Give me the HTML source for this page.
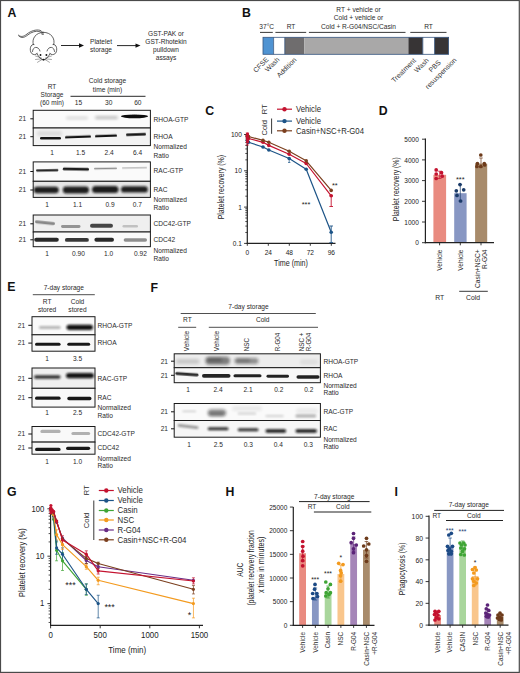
<!DOCTYPE html>
<html><head><meta charset="utf-8"><title>Figure</title>
<style>
html,body{margin:0;padding:0;background:#fff;}
body{width:520px;height:673px;overflow:hidden;font-family:"Liberation Sans",sans-serif;}
svg{display:block;}
svg text{font-family:"Liberation Sans",sans-serif;}
</style></head><body>
<svg width="520" height="673" viewBox="0 0 520 673">
<defs>
<filter id="b1" x="-30%" y="-100%" width="160%" height="300%"><feGaussianBlur stdDeviation="0.9"/></filter>
<filter id="b2" x="-30%" y="-100%" width="160%" height="300%"><feGaussianBlur stdDeviation="1.5"/></filter>
<filter id="b3" x="-30%" y="-100%" width="160%" height="300%"><feGaussianBlur stdDeviation="0.75"/></filter>
<filter id="b4" x="-30%" y="-100%" width="160%" height="300%"><feGaussianBlur stdDeviation="0.5"/></filter>
</defs>
<rect x="0" y="0" width="520" height="673" fill="#fff"/>
<rect x="0.5" y="0.5" width="518.8" height="671.9" fill="none" stroke="#4a4a4a" stroke-width="1.2"/>
<text x="7.5" y="17" font-size="12.3" text-anchor="start" font-weight="bold" fill="#111" >A</text>
<g fill="none" stroke="#3a3a3a" stroke-width="0.8" stroke-linecap="round" stroke-linejoin="round">
<path d="M18.5 35.2 C21 37.5 24 36.5 27 34 C31 30.8 36 29.3 40 30.3 C42 31 43 32.5 43.3 34.5"/>
<path d="M18.8 36 C21.5 38.6 24.8 37.5 28 34.8 C31.5 32 36 30.6 39.5 31.5 C41 32 42 33 42.3 34.6"/>
<path d="M43.5 32.3 C36 32.3 31.5 38.5 33.3 44.5"/>
<path d="M43.5 32.3 C51 32.3 55.5 38.5 53.7 44.5"/>
<path d="M34 44.5 C30.5 43.5 29 50 31.5 53.3 C33.5 55.2 36 55 37 53.5"/>
<path d="M53 44.5 C56.5 43.5 58 50 55.5 53.3 C53.5 55.2 51 55 50 53.5"/>
<path d="M32.5 51.5 C32.5 46.5 38.5 45.5 40 51"/>
<path d="M54.5 51.5 C54.5 46.5 48.5 45.5 47 51"/>
<path d="M37 53.5 C38.5 57 41 59.5 43.5 60 C46 59.5 48.5 57 50 53.5"/>
<path d="M41.5 58 L35.5 56 M41.5 58.800 L35.5 59.5 M42 59.5 L37.5 62.3 M45.500 58 L51.5 56 M45.5 58.8 L51.5 59.5 M45 59.5 L49.500 62.3" stroke-width="0.45"/>
</g>
<circle cx="40.5" cy="55" r="0.95" fill="#111"/><circle cx="46.4" cy="55" r="0.95" fill="#111"/>
<ellipse cx="43.5" cy="59.6" rx="1.1" ry="0.9" fill="#111"/>
<line x1="61" y1="45.5" x2="81" y2="45.5" stroke="#111" stroke-width="0.9" />
<path d="M84 45.5 L79 43.3 L79 47.7 Z" fill="#111"/>
<text x="101" y="43.5" font-size="6.6" text-anchor="middle" font-weight="normal" fill="#2a2a2a" >Platelet</text>
<text x="101" y="51.5" font-size="6.6" text-anchor="middle" font-weight="normal" fill="#2a2a2a" >storage</text>
<line x1="117" y1="45.6" x2="137.5" y2="45.6" stroke="#111" stroke-width="0.9" />
<path d="M140.5 45.6 L135.5 43.4 L135.5 47.800000000000004 Z" fill="#111"/>
<text x="166" y="35.8" font-size="6.6" text-anchor="middle" font-weight="normal" fill="#2a2a2a" >GST-PAK or</text>
<text x="166" y="43.9" font-size="6.6" text-anchor="middle" font-weight="normal" fill="#2a2a2a" >GST-Rhotekin</text>
<text x="166" y="52.0" font-size="6.6" text-anchor="middle" font-weight="normal" fill="#2a2a2a" >pulldown</text>
<text x="166" y="60.099999999999994" font-size="6.6" text-anchor="middle" font-weight="normal" fill="#2a2a2a" >assays</text>
<text x="52" y="89" font-size="6.5" text-anchor="middle" font-weight="normal" fill="#2a2a2a" >RT</text>
<text x="52" y="97" font-size="6.5" text-anchor="middle" font-weight="normal" fill="#2a2a2a" >Storage</text>
<text x="52" y="105" font-size="6.5" text-anchor="middle" font-weight="normal" fill="#2a2a2a" >(60 min)</text>
<text x="107.5" y="83.3" font-size="6.6" text-anchor="middle" font-weight="normal" fill="#2a2a2a" >Cold storage</text>
<text x="107.5" y="91.5" font-size="6.6" text-anchor="middle" font-weight="normal" fill="#2a2a2a" >time (min)</text>
<line x1="70.5" y1="96.3" x2="145.5" y2="96.3" stroke="#111" stroke-width="0.9" />
<text x="78.5" y="105.2" font-size="6.6" text-anchor="middle" font-weight="normal" fill="#2a2a2a" >15</text>
<text x="108.7" y="105.2" font-size="6.6" text-anchor="middle" font-weight="normal" fill="#2a2a2a" >30</text>
<text x="137.8" y="105.2" font-size="6.6" text-anchor="middle" font-weight="normal" fill="#2a2a2a" >60</text>
<rect x="33.2" y="110.3" width="117.2" height="17.7" fill="#fbfbfb" stroke="#1a1a1a" stroke-width="1.0" />
<rect x="33.2" y="128" width="117.2" height="17.6" fill="#f3f3f3" stroke="#1a1a1a" stroke-width="1.0" />
<text x="22.4" y="121.1" font-size="6.6" text-anchor="middle" font-weight="normal" fill="#2a2a2a" >21</text>
<line x1="30.3" y1="118.8" x2="33.2" y2="118.8" stroke="#111" stroke-width="1.0" />
<text x="22.4" y="139.0" font-size="6.6" text-anchor="middle" font-weight="normal" fill="#2a2a2a" >21</text>
<line x1="30.3" y1="136.7" x2="33.2" y2="136.7" stroke="#111" stroke-width="1.0" />
<rect x="66.0" y="116.80" width="22.0" height="2.40" rx="1.20" fill="#111" opacity="0.16" filter="url(#b2)"/>
<rect x="95.0" y="116.30" width="23.0" height="2.60" rx="1.30" fill="#111" opacity="0.28" filter="url(#b2)"/>
<ellipse cx="134.5" cy="116.3" rx="13.5" ry="1.9" fill="#111" opacity="1.0" filter="url(#b3)"/>
<rect x="37.0" y="131.00" width="25.0" height="5.00" rx="2.50" fill="#111" opacity="0.1" filter="url(#b2)"/>
<rect x="40.0" y="137.00" width="21.0" height="2.60" rx="1.30" fill="#111" opacity="0.97" filter="url(#b4)"/>
<rect x="65.0" y="135.70" width="26.0" height="2.40" rx="1.20" fill="#111" opacity="0.97" filter="url(#b4)" transform="rotate(-2 78.0 136.9)"/>
<rect x="95.0" y="134.70" width="22.0" height="2.40" rx="1.20" fill="#111" opacity="0.97" filter="url(#b4)" transform="rotate(-2 106.0 135.9)"/>
<rect x="126.0" y="133.30" width="20.0" height="2.40" rx="1.20" fill="#111" opacity="0.97" filter="url(#b4)" transform="rotate(-2 136.0 134.5)"/>
<text x="153.5" y="121.5" font-size="6.6" text-anchor="start" font-weight="normal" fill="#2a2a2a" >RHOA-GTP</text>
<text x="153.5" y="138.6" font-size="6.6" text-anchor="start" font-weight="normal" fill="#2a2a2a" >RHOA</text>
<text x="52" y="154.6" font-size="6.6" text-anchor="middle" font-weight="normal" fill="#2a2a2a" >1</text>
<text x="80.5" y="154.6" font-size="6.6" text-anchor="middle" font-weight="normal" fill="#2a2a2a" >1.5</text>
<text x="109.2" y="154.6" font-size="6.6" text-anchor="middle" font-weight="normal" fill="#2a2a2a" >2.4</text>
<text x="137.5" y="154.6" font-size="6.6" text-anchor="middle" font-weight="normal" fill="#2a2a2a" >6.4</text>
<text x="153.5" y="149.3" font-size="6.6" text-anchor="start" font-weight="normal" fill="#2a2a2a" >Normalized</text>
<text x="153.5" y="157.8" font-size="6.6" text-anchor="start" font-weight="normal" fill="#2a2a2a" >Ratio</text>
<rect x="33.2" y="161.9" width="117.2" height="19.4" fill="#fafafa" stroke="#1a1a1a" stroke-width="1.0" />
<rect x="33.2" y="181.3" width="117.2" height="16.1" fill="#e6e6e6" stroke="#1a1a1a" stroke-width="1.0" />
<text x="22.4" y="173.8" font-size="6.6" text-anchor="middle" font-weight="normal" fill="#2a2a2a" >21</text>
<line x1="30.3" y1="171.5" x2="33.2" y2="171.5" stroke="#111" stroke-width="1.0" />
<text x="22.4" y="192.3" font-size="6.6" text-anchor="middle" font-weight="normal" fill="#2a2a2a" >21</text>
<line x1="30.3" y1="190" x2="33.2" y2="190" stroke="#111" stroke-width="1.0" />
<rect x="36.0" y="169.20" width="22.4" height="2.20" rx="1.10" fill="#111" opacity="0.9" filter="url(#b4)" transform="rotate(-1 47.2 170.3)"/>
<rect x="62.8" y="167.80" width="26.2" height="2.80" rx="1.40" fill="#111" opacity="0.93" filter="url(#b4)" transform="rotate(1 75.9 169.2)"/>
<rect x="94.0" y="167.65" width="23.0" height="1.50" rx="0.75" fill="#111" opacity="0.45" filter="url(#b4)" transform="rotate(-1 105.5 168.4)"/>
<rect x="122.0" y="167.20" width="25.0" height="1.20" rx="0.60" fill="#111" opacity="0.3" filter="url(#b4)" transform="rotate(-1 134.5 167.8)"/>
<rect x="33.8" y="186.70" width="25.0" height="6.60" rx="3.30" fill="#111" opacity="0.92" filter="url(#b1)"/>
<rect x="62.8" y="186.60" width="26.2" height="6.80" rx="3.40" fill="#111" opacity="0.92" filter="url(#b1)"/>
<rect x="92.0" y="186.10" width="26.5" height="7.00" rx="3.50" fill="#111" opacity="0.93" filter="url(#b1)"/>
<rect x="121.0" y="186.20" width="26.8" height="6.40" rx="3.20" fill="#111" opacity="0.92" filter="url(#b1)"/>
<text x="153.5" y="173.3" font-size="6.6" text-anchor="start" font-weight="normal" fill="#2a2a2a" >RAC-GTP</text>
<text x="153.5" y="191.5" font-size="6.6" text-anchor="start" font-weight="normal" fill="#2a2a2a" >RAC</text>
<text x="47.2" y="207" font-size="6.6" text-anchor="middle" font-weight="normal" fill="#2a2a2a" >1</text>
<text x="77.5" y="207" font-size="6.6" text-anchor="middle" font-weight="normal" fill="#2a2a2a" >1.1</text>
<text x="110" y="207" font-size="6.6" text-anchor="middle" font-weight="normal" fill="#2a2a2a" >0.9</text>
<text x="137.4" y="207" font-size="6.6" text-anchor="middle" font-weight="normal" fill="#2a2a2a" >0.7</text>
<text x="153.5" y="201.8" font-size="6.6" text-anchor="start" font-weight="normal" fill="#2a2a2a" >Normalized</text>
<text x="153.5" y="209.6" font-size="6.6" text-anchor="start" font-weight="normal" fill="#2a2a2a" >Ratio</text>
<rect x="33.2" y="215" width="117.2" height="17" fill="#efefef" stroke="#1a1a1a" stroke-width="1.0" />
<rect x="33.2" y="232" width="117.2" height="14.7" fill="#fafafa" stroke="#1a1a1a" stroke-width="1.0" />
<text x="22.4" y="226.10000000000002" font-size="6.6" text-anchor="middle" font-weight="normal" fill="#2a2a2a" >21</text>
<line x1="30.3" y1="223.8" x2="33.2" y2="223.8" stroke="#111" stroke-width="1.0" />
<text x="22.4" y="242.10000000000002" font-size="6.6" text-anchor="middle" font-weight="normal" fill="#2a2a2a" >21</text>
<line x1="30.3" y1="239.8" x2="33.2" y2="239.8" stroke="#111" stroke-width="1.0" />
<rect x="35.0" y="221.35" width="20.0" height="2.90" rx="1.45" fill="#111" opacity="0.45" filter="url(#b3)" transform="rotate(6 45.0 222.8)"/>
<rect x="61.0" y="225.05" width="19.5" height="2.90" rx="1.45" fill="#111" opacity="0.4" filter="url(#b3)"/>
<rect x="90.0" y="223.85" width="23.0" height="3.90" rx="1.95" fill="#111" opacity="0.75" filter="url(#b3)"/>
<rect x="122.5" y="225.05" width="15.5" height="2.50" rx="1.25" fill="#111" opacity="0.2" filter="url(#b3)"/>
<rect x="34.2" y="237.75" width="24.6" height="3.90" rx="1.95" fill="#111" opacity="0.88" filter="url(#b3)"/>
<rect x="64.9" y="237.95" width="24.0" height="3.90" rx="1.95" fill="#111" opacity="0.82" filter="url(#b3)"/>
<rect x="94.4" y="237.75" width="19.6" height="3.90" rx="1.95" fill="#111" opacity="0.88" filter="url(#b3)"/>
<rect x="123.7" y="238.35" width="23.3" height="3.30" rx="1.65" fill="#111" opacity="0.45" filter="url(#b3)"/>
<text x="153.5" y="225.5" font-size="6.6" text-anchor="start" font-weight="normal" fill="#2a2a2a" >CDC42-GTP</text>
<text x="153.5" y="241.8" font-size="6.6" text-anchor="start" font-weight="normal" fill="#2a2a2a" >CDC42</text>
<text x="47.2" y="255.5" font-size="6.6" text-anchor="middle" font-weight="normal" fill="#2a2a2a" >1</text>
<text x="78.5" y="255.5" font-size="6.6" text-anchor="middle" font-weight="normal" fill="#2a2a2a" >0.90</text>
<text x="108.6" y="255.5" font-size="6.6" text-anchor="middle" font-weight="normal" fill="#2a2a2a" >1.0</text>
<text x="140.4" y="255.5" font-size="6.6" text-anchor="middle" font-weight="normal" fill="#2a2a2a" >0.92</text>
<text x="153.5" y="252.8" font-size="6.6" text-anchor="start" font-weight="normal" fill="#2a2a2a" >Normalized</text>
<text x="153.5" y="260.6" font-size="6.6" text-anchor="start" font-weight="normal" fill="#2a2a2a" >Ratio</text>
<text x="242" y="16.9" font-size="12.3" text-anchor="start" font-weight="bold" fill="#111" >B</text>
<text x="358.5" y="11.8" font-size="6.6" text-anchor="middle" font-weight="normal" fill="#2a2a2a" >RT + vehicle or</text>
<text x="358.5" y="20.3" font-size="6.6" text-anchor="middle" font-weight="normal" fill="#2a2a2a" >Cold + vehicle or</text>
<text x="358.5" y="28.8" font-size="6.6" text-anchor="middle" font-weight="normal" fill="#2a2a2a" >Cold + R-G04/NSC/Casin</text>
<text x="266.7" y="28.7" font-size="6.6" text-anchor="middle" font-weight="normal" fill="#2a2a2a" >37°C</text>
<line x1="260" y1="32.4" x2="272.8" y2="32.4" stroke="#222" stroke-width="0.9" />
<text x="291" y="28.7" font-size="6.6" text-anchor="middle" font-weight="normal" fill="#2a2a2a" >RT</text>
<line x1="275.4" y1="32.4" x2="306.2" y2="32.4" stroke="#222" stroke-width="0.9" />
<line x1="308.9" y1="32.4" x2="405.5" y2="32.4" stroke="#222" stroke-width="0.9" />
<text x="428.5" y="28.7" font-size="6.6" text-anchor="middle" font-weight="normal" fill="#2a2a2a" >RT</text>
<line x1="410.3" y1="32.4" x2="446.5" y2="32.4" stroke="#222" stroke-width="0.9" />
<rect x="263" y="37.3" width="10.600000000000023" height="17" fill="#4f93d2" stroke="none" stroke-width="0.8" />
<rect x="273.6" y="37.3" width="11.199999999999989" height="17" fill="#ffffff" stroke="none" stroke-width="0.8" />
<rect x="284.8" y="37.3" width="19.5" height="17" fill="#6f6d6e" stroke="none" stroke-width="0.8" />
<rect x="304.3" y="37.3" width="104.09999999999997" height="17" fill="#a9a8a8" stroke="none" stroke-width="0.8" />
<rect x="408.4" y="37.3" width="14.400000000000034" height="17" fill="#373435" stroke="none" stroke-width="0.8" />
<rect x="422.8" y="37.3" width="11.800000000000011" height="17" fill="#ffffff" stroke="none" stroke-width="0.8" />
<rect x="434.6" y="37.3" width="14.0" height="17" fill="#373435" stroke="none" stroke-width="0.8" />
<rect x="263" y="37.3" width="185.60000000000002" height="17" fill="none" stroke="#35557f" stroke-width="0.8" />
<line x1="273.6" y1="37.3" x2="273.6" y2="54.3" stroke="#35557f" stroke-width="0.8" />
<line x1="284.8" y1="37.3" x2="284.8" y2="54.3" stroke="#35557f" stroke-width="0.8" />
<line x1="422.8" y1="37.3" x2="422.8" y2="54.3" stroke="#35557f" stroke-width="0.8" />
<line x1="434.6" y1="37.3" x2="434.6" y2="54.3" stroke="#35557f" stroke-width="0.8" />
<text transform="translate(269 60) rotate(-45)" font-size="6.9" text-anchor="end" font-weight="normal" fill="#333" >CFSE</text>
<text transform="translate(280 60) rotate(-45)" font-size="6.9" text-anchor="end" font-weight="normal" fill="#333" >Wash</text>
<text transform="translate(297 60.3) rotate(-45)" font-size="6.9" text-anchor="end" font-weight="normal" fill="#333" >Addition</text>
<text transform="translate(416.3 61) rotate(-45)" font-size="6.9" text-anchor="end" font-weight="normal" fill="#333" >Treatment</text>
<text transform="translate(429.3 60.8) rotate(-45)" font-size="6.9" text-anchor="end" font-weight="normal" fill="#333" >Wash</text>
<text transform="translate(441.3 63) rotate(-45)" font-size="6.9" text-anchor="end" font-weight="normal" fill="#333" >PBS</text>
<text transform="translate(457 60.5) rotate(-45)" font-size="6.9" text-anchor="end" font-weight="normal" fill="#333" >resuspension</text>
<text x="205.2" y="114.7" font-size="12.3" text-anchor="start" font-weight="bold" fill="#111" >C</text>
<text transform="translate(266.6 109.4) rotate(-90) scale(0.94 1)" font-size="8" text-anchor="middle" font-weight="normal" fill="#2a2a2a" >RT</text>
<text transform="translate(266.6 127.8) rotate(-90) scale(0.94 1)" font-size="8" text-anchor="middle" font-weight="normal" fill="#2a2a2a" >Cold</text>
<line x1="271.6" y1="118.5" x2="271.6" y2="133.8" stroke="#222" stroke-width="0.9" />
<line x1="277" y1="109.2" x2="292" y2="109.2" stroke="#c4122f" stroke-width="1.2" />
<circle cx="284.5" cy="109.2" r="2.2" fill="#c4122f"/>
<text transform="translate(296 111.9) rotate(0) scale(0.945 1)" font-size="8.2" text-anchor="start" font-weight="normal" fill="#2a2a2a" >Vehicle</text>
<line x1="277" y1="121.1" x2="292" y2="121.1" stroke="#1d5487" stroke-width="1.2" />
<circle cx="284.5" cy="121.1" r="2.2" fill="#1d5487"/>
<text transform="translate(296 123.8) rotate(0) scale(0.945 1)" font-size="8.2" text-anchor="start" font-weight="normal" fill="#2a2a2a" >Vehicle</text>
<line x1="277" y1="130.8" x2="292" y2="130.8" stroke="#7b3f1e" stroke-width="1.2" />
<circle cx="284.5" cy="130.8" r="2.2" fill="#7b3f1e"/>
<text transform="translate(296 133.5) rotate(0) scale(0.945 1)" font-size="8.2" text-anchor="start" font-weight="normal" fill="#2a2a2a" >Casin+NSC+R-G04</text>
<line x1="247.3" y1="133.5" x2="247.3" y2="243.99999999999997" stroke="#222" stroke-width="1.2" />
<line x1="246.70000000000002" y1="243.39999999999998" x2="335.5" y2="243.39999999999998" stroke="#222" stroke-width="1.2" />
<line x1="244.10000000000002" y1="134.5" x2="247.3" y2="134.5" stroke="#222" stroke-width="0.9" />
<text transform="translate(241.9 137.0) scale(0.94 1)" font-size="7.0" text-anchor="end" font-weight="normal" fill="#222" >100</text>
<line x1="245.3" y1="159.87261115739747" x2="247.3" y2="159.87261115739747" stroke="#222" stroke-width="0.8" />
<line x1="245.3" y1="153.48049845367626" x2="247.3" y2="153.48049845367626" stroke="#222" stroke-width="0.8" />
<line x1="245.3" y1="148.94522231479496" x2="247.3" y2="148.94522231479496" stroke="#222" stroke-width="0.8" />
<line x1="245.3" y1="145.4273888426025" x2="247.3" y2="145.4273888426025" stroke="#222" stroke-width="0.8" />
<line x1="245.3" y1="142.55310961107372" x2="247.3" y2="142.55310961107372" stroke="#222" stroke-width="0.8" />
<line x1="245.3" y1="140.12294114748246" x2="247.3" y2="140.12294114748246" stroke="#222" stroke-width="0.8" />
<line x1="245.3" y1="138.01783347219245" x2="247.3" y2="138.01783347219245" stroke="#222" stroke-width="0.8" />
<line x1="245.3" y1="136.1609969073525" x2="247.3" y2="136.1609969073525" stroke="#222" stroke-width="0.8" />
<line x1="244.10000000000002" y1="170.8" x2="247.3" y2="170.8" stroke="#222" stroke-width="0.9" />
<text transform="translate(241.9 173.3) scale(0.94 1)" font-size="7.0" text-anchor="end" font-weight="normal" fill="#222" >10</text>
<line x1="245.3" y1="196.17261115739748" x2="247.3" y2="196.17261115739748" stroke="#222" stroke-width="0.8" />
<line x1="245.3" y1="189.78049845367627" x2="247.3" y2="189.78049845367627" stroke="#222" stroke-width="0.8" />
<line x1="245.3" y1="185.24522231479497" x2="247.3" y2="185.24522231479497" stroke="#222" stroke-width="0.8" />
<line x1="245.3" y1="181.72738884260252" x2="247.3" y2="181.72738884260252" stroke="#222" stroke-width="0.8" />
<line x1="245.3" y1="178.85310961107373" x2="247.3" y2="178.85310961107373" stroke="#222" stroke-width="0.8" />
<line x1="245.3" y1="176.42294114748248" x2="247.3" y2="176.42294114748248" stroke="#222" stroke-width="0.8" />
<line x1="245.3" y1="174.31783347219246" x2="247.3" y2="174.31783347219246" stroke="#222" stroke-width="0.8" />
<line x1="245.3" y1="172.46099690735252" x2="247.3" y2="172.46099690735252" stroke="#222" stroke-width="0.8" />
<line x1="244.10000000000002" y1="207.1" x2="247.3" y2="207.1" stroke="#222" stroke-width="0.9" />
<text transform="translate(241.9 209.6) scale(0.94 1)" font-size="7.0" text-anchor="end" font-weight="normal" fill="#222" >1</text>
<line x1="245.3" y1="232.47261115739747" x2="247.3" y2="232.47261115739747" stroke="#222" stroke-width="0.8" />
<line x1="245.3" y1="226.08049845367626" x2="247.3" y2="226.08049845367626" stroke="#222" stroke-width="0.8" />
<line x1="245.3" y1="221.54522231479496" x2="247.3" y2="221.54522231479496" stroke="#222" stroke-width="0.8" />
<line x1="245.3" y1="218.0273888426025" x2="247.3" y2="218.0273888426025" stroke="#222" stroke-width="0.8" />
<line x1="245.3" y1="215.15310961107372" x2="247.3" y2="215.15310961107372" stroke="#222" stroke-width="0.8" />
<line x1="245.3" y1="212.72294114748246" x2="247.3" y2="212.72294114748246" stroke="#222" stroke-width="0.8" />
<line x1="245.3" y1="210.61783347219244" x2="247.3" y2="210.61783347219244" stroke="#222" stroke-width="0.8" />
<line x1="245.3" y1="208.7609969073525" x2="247.3" y2="208.7609969073525" stroke="#222" stroke-width="0.8" />
<line x1="244.10000000000002" y1="243.39999999999998" x2="247.3" y2="243.39999999999998" stroke="#222" stroke-width="0.9" />
<text transform="translate(241.9 245.89999999999998) scale(0.94 1)" font-size="7.0" text-anchor="end" font-weight="normal" fill="#222" >0.1</text>
<line x1="247.3" y1="243.39999999999998" x2="247.3" y2="245.79999999999998" stroke="#222" stroke-width="0.9" />
<text transform="translate(247.3 255) scale(0.9 1)" font-size="7.3" text-anchor="middle" font-weight="normal" fill="#222" >0</text>
<line x1="268.3" y1="243.39999999999998" x2="268.3" y2="245.79999999999998" stroke="#222" stroke-width="0.9" />
<text transform="translate(268.3 255) scale(0.9 1)" font-size="7.3" text-anchor="middle" font-weight="normal" fill="#222" >24</text>
<line x1="289.3" y1="243.39999999999998" x2="289.3" y2="245.79999999999998" stroke="#222" stroke-width="0.9" />
<text transform="translate(289.3 255) scale(0.9 1)" font-size="7.3" text-anchor="middle" font-weight="normal" fill="#222" >48</text>
<line x1="310.3" y1="243.39999999999998" x2="310.3" y2="245.79999999999998" stroke="#222" stroke-width="0.9" />
<text transform="translate(310.3 255) scale(0.9 1)" font-size="7.3" text-anchor="middle" font-weight="normal" fill="#222" >72</text>
<line x1="331.3" y1="243.39999999999998" x2="331.3" y2="245.79999999999998" stroke="#222" stroke-width="0.9" />
<text transform="translate(331.3 255) scale(0.9 1)" font-size="7.3" text-anchor="middle" font-weight="normal" fill="#222" >96</text>
<text transform="translate(291 266.3) scale(0.87 1)" font-size="8.2" text-anchor="middle" font-weight="normal" fill="#222" >Time (min)</text>
<text transform="translate(224.2 187.1) rotate(-90) scale(0.755 1)" font-size="9.2" text-anchor="middle" font-weight="normal" fill="#222" >Platelet recovery (%)</text>
<line x1="331.2" y1="195.8" x2="331.2" y2="206.5" stroke="#c4122f" stroke-width="0.9" />
<line x1="329.4" y1="195.8" x2="333.0" y2="195.8" stroke="#c4122f" stroke-width="0.9" />
<line x1="329.4" y1="206.5" x2="333.0" y2="206.5" stroke="#c4122f" stroke-width="0.9" />
<line x1="331.2" y1="226" x2="331.2" y2="242.6" stroke="#1d5487" stroke-width="0.9" />
<line x1="329.4" y1="226" x2="333.0" y2="226" stroke="#1d5487" stroke-width="0.9" />
<line x1="329.4" y1="242.6" x2="333.0" y2="242.6" stroke="#1d5487" stroke-width="0.9" />
<line x1="289.2" y1="158.5" x2="289.2" y2="162.5" stroke="#1d5487" stroke-width="0.7" />
<line x1="288.0" y1="158.5" x2="290.4" y2="158.5" stroke="#1d5487" stroke-width="0.7" />
<line x1="288.0" y1="162.5" x2="290.4" y2="162.5" stroke="#1d5487" stroke-width="0.7" />
<line x1="247.3" y1="133" x2="247.3" y2="145" stroke="#c4122f" stroke-width="0.8" />
<line x1="245.8" y1="133" x2="248.8" y2="133" stroke="#c4122f" stroke-width="0.8" />
<line x1="245.8" y1="145" x2="248.8" y2="145" stroke="#c4122f" stroke-width="0.8" />
<polyline points="247.3,140.5 248.5,142.3 263.0,147.0 268.8,150.0 289.2,158.5 306.2,169.2 331.2,232.3" fill="none" stroke="#1d5487" stroke-width="1.2" stroke-linejoin="round"/>
<circle cx="247.3" cy="140.5" r="1.8" fill="#1d5487"/>
<circle cx="248.5" cy="142.3" r="1.8" fill="#1d5487"/>
<circle cx="263.0" cy="147.0" r="1.8" fill="#1d5487"/>
<circle cx="268.8" cy="150.0" r="1.8" fill="#1d5487"/>
<circle cx="289.2" cy="158.5" r="1.8" fill="#1d5487"/>
<circle cx="306.2" cy="169.2" r="1.8" fill="#1d5487"/>
<circle cx="331.2" cy="232.3" r="1.8" fill="#1d5487"/>
<polyline points="247.3,136.5 248.5,138.5 263.0,142.3 268.8,145.4 289.2,154.3 306.2,163.5 331.2,195.8" fill="none" stroke="#c4122f" stroke-width="1.2" stroke-linejoin="round"/>
<circle cx="247.3" cy="136.5" r="1.8" fill="#c4122f"/>
<circle cx="248.5" cy="138.5" r="1.8" fill="#c4122f"/>
<circle cx="263.0" cy="142.3" r="1.8" fill="#c4122f"/>
<circle cx="268.8" cy="145.4" r="1.8" fill="#c4122f"/>
<circle cx="289.2" cy="154.3" r="1.8" fill="#c4122f"/>
<circle cx="306.2" cy="163.5" r="1.8" fill="#c4122f"/>
<circle cx="331.2" cy="195.8" r="1.8" fill="#c4122f"/>
<polyline points="247.3,135.4 248.5,136.5 263.0,140.4 268.8,142.3 289.2,151.2 306.2,160.8 331.2,190.4" fill="none" stroke="#7b3f1e" stroke-width="1.2" stroke-linejoin="round"/>
<circle cx="247.3" cy="135.4" r="1.8" fill="#7b3f1e"/>
<circle cx="248.5" cy="136.5" r="1.8" fill="#7b3f1e"/>
<circle cx="263.0" cy="140.4" r="1.8" fill="#7b3f1e"/>
<circle cx="268.8" cy="142.3" r="1.8" fill="#7b3f1e"/>
<circle cx="289.2" cy="151.2" r="1.8" fill="#7b3f1e"/>
<circle cx="306.2" cy="160.8" r="1.8" fill="#7b3f1e"/>
<circle cx="331.2" cy="190.4" r="1.8" fill="#7b3f1e"/>
<circle cx="247.5" cy="134.0" r="1.6" fill="#c4122f"/>
<circle cx="247.5" cy="136.0" r="1.6" fill="#c4122f"/>
<circle cx="247.5" cy="138.0" r="1.6" fill="#c4122f"/>
<circle cx="247.5" cy="140.0" r="1.6" fill="#c4122f"/>
<circle cx="247.5" cy="142.0" r="1.6" fill="#c4122f"/>
<text transform="translate(334.8 187.7) scale(0.95 1)" font-size="7.8" text-anchor="middle" font-weight="normal" fill="#222" >**</text>
<text transform="translate(306 206.7) scale(0.95 1)" font-size="7.8" text-anchor="middle" font-weight="normal" fill="#222" >***</text>
<text x="378.7" y="114.7" font-size="12.3" text-anchor="start" font-weight="bold" fill="#111" >D</text>
<rect x="433.4" y="174.8" width="12.700000000000045" height="67.89999999999998" fill="#e98b80" stroke="none" stroke-width="0.8" />
<rect x="454.2" y="193.2" width="12.400000000000034" height="49.5" fill="#8897c3" stroke="none" stroke-width="0.8" />
<rect x="475.1" y="163.7" width="12.099999999999966" height="79.0" fill="#a88b6b" stroke="none" stroke-width="0.8" />
<line x1="425.4" y1="138.4" x2="425.4" y2="243.29999999999998" stroke="#222" stroke-width="1.2" />
<line x1="424.79999999999995" y1="242.7" x2="494" y2="242.7" stroke="#222" stroke-width="1.2" />
<line x1="422.0" y1="242.7" x2="425.4" y2="242.7" stroke="#222" stroke-width="0.9" />
<text transform="translate(418.79999999999995 245.39999999999998) scale(0.86 1)" font-size="7.6" text-anchor="end" font-weight="normal" fill="#222" >0</text>
<line x1="422.0" y1="222.0" x2="425.4" y2="222.0" stroke="#222" stroke-width="0.9" />
<text transform="translate(418.79999999999995 224.7) scale(0.86 1)" font-size="7.6" text-anchor="end" font-weight="normal" fill="#222" >1000</text>
<line x1="422.0" y1="201.29999999999998" x2="425.4" y2="201.29999999999998" stroke="#222" stroke-width="0.9" />
<text transform="translate(418.79999999999995 203.99999999999997) scale(0.86 1)" font-size="7.6" text-anchor="end" font-weight="normal" fill="#222" >2000</text>
<line x1="422.0" y1="180.6" x2="425.4" y2="180.6" stroke="#222" stroke-width="0.9" />
<text transform="translate(418.79999999999995 183.29999999999998) scale(0.86 1)" font-size="7.6" text-anchor="end" font-weight="normal" fill="#222" >3000</text>
<line x1="422.0" y1="159.89999999999998" x2="425.4" y2="159.89999999999998" stroke="#222" stroke-width="0.9" />
<text transform="translate(418.79999999999995 162.59999999999997) scale(0.86 1)" font-size="7.6" text-anchor="end" font-weight="normal" fill="#222" >4000</text>
<line x1="422.0" y1="139.2" x2="425.4" y2="139.2" stroke="#222" stroke-width="0.9" />
<text transform="translate(418.79999999999995 141.89999999999998) scale(0.86 1)" font-size="7.6" text-anchor="end" font-weight="normal" fill="#222" >5000</text>
<line x1="439.6" y1="242.7" x2="439.6" y2="245.29999999999998" stroke="#222" stroke-width="0.9" />
<line x1="460.3" y1="242.7" x2="460.3" y2="245.29999999999998" stroke="#222" stroke-width="0.9" />
<line x1="481" y1="242.7" x2="481" y2="245.29999999999998" stroke="#222" stroke-width="0.9" />
<text transform="translate(398.7 189.2) rotate(-90) scale(0.75 1)" font-size="9.2" text-anchor="middle" font-weight="normal" fill="#222" >Platelet recovery (%)</text>
<line x1="439.7" y1="171.2" x2="439.7" y2="178.5" stroke="#c4122f" stroke-width="0.7" />
<line x1="437.9" y1="171.2" x2="441.5" y2="171.2" stroke="#c4122f" stroke-width="0.7" />
<line x1="437.9" y1="178.5" x2="441.5" y2="178.5" stroke="#c4122f" stroke-width="0.7" />
<circle cx="436.2" cy="169.9" r="1.85" fill="#c4122f"/>
<circle cx="436.2" cy="174.0" r="1.85" fill="#c4122f"/>
<circle cx="436.2" cy="178.5" r="1.85" fill="#c4122f"/>
<circle cx="441.5" cy="172.7" r="1.85" fill="#c4122f"/>
<circle cx="442.2" cy="176.2" r="1.85" fill="#c4122f"/>
<line x1="460.3" y1="184.6" x2="460.3" y2="201" stroke="#1a3a68" stroke-width="0.7" />
<line x1="458.5" y1="184.6" x2="462.1" y2="184.6" stroke="#1a3a68" stroke-width="0.7" />
<line x1="458.5" y1="201" x2="462.1" y2="201" stroke="#1a3a68" stroke-width="0.7" />
<circle cx="460.0" cy="184.6" r="1.85" fill="#1a3a68"/>
<circle cx="456.3" cy="190.8" r="1.85" fill="#1a3a68"/>
<circle cx="463.7" cy="189.8" r="1.85" fill="#1a3a68"/>
<circle cx="457.0" cy="195.4" r="1.85" fill="#1a3a68"/>
<circle cx="460.6" cy="201.0" r="1.85" fill="#1a3a68"/>
<line x1="481" y1="158" x2="481" y2="167" stroke="#6d3b1b" stroke-width="0.7" />
<line x1="479.2" y1="158" x2="482.8" y2="158" stroke="#6d3b1b" stroke-width="0.7" />
<line x1="479.2" y1="167" x2="482.8" y2="167" stroke="#6d3b1b" stroke-width="0.7" />
<circle cx="480.8" cy="155.0" r="1.85" fill="#6d3b1b"/>
<circle cx="477.4" cy="163.5" r="1.85" fill="#6d3b1b"/>
<circle cx="484.3" cy="163.5" r="1.85" fill="#6d3b1b"/>
<circle cx="476.9" cy="166.5" r="1.85" fill="#6d3b1b"/>
<circle cx="480.8" cy="166.5" r="1.85" fill="#6d3b1b"/>
<circle cx="484.7" cy="165.0" r="1.85" fill="#6d3b1b"/>
<text transform="translate(460.3 182) scale(0.95 1)" font-size="7.8" text-anchor="middle" font-weight="normal" fill="#222" >***</text>
<text transform="translate(442 249.5) rotate(-90)" font-size="6.6" text-anchor="end" font-weight="normal" fill="#2a2a2a" >Vehicle</text>
<text transform="translate(462.7 249.5) rotate(-90)" font-size="6.6" text-anchor="end" font-weight="normal" fill="#2a2a2a" >Vehicle</text>
<text transform="translate(479.6 249.5) rotate(-90)" font-size="6.6" text-anchor="end" font-weight="normal" fill="#2a2a2a" >Casin+NSC+</text>
<text transform="translate(487 249.5) rotate(-90)" font-size="6.6" text-anchor="end" font-weight="normal" fill="#2a2a2a" >R-G04</text>
<line x1="459.2" y1="291.3" x2="487.8" y2="291.3" stroke="#222" stroke-width="0.9" />
<text x="439.6" y="300" font-size="6.8" text-anchor="middle" font-weight="normal" fill="#2a2a2a" >RT</text>
<text x="473" y="300" font-size="6.8" text-anchor="middle" font-weight="normal" fill="#2a2a2a" >Cold</text>
<text x="7.3" y="291" font-size="12.3" text-anchor="start" font-weight="bold" fill="#111" >E</text>
<text x="63.8" y="290" font-size="6.6" text-anchor="middle" font-weight="normal" fill="#2a2a2a" >7-day storage</text>
<line x1="32.8" y1="294.7" x2="94.8" y2="294.7" stroke="#222" stroke-width="0.8" />
<text x="47.1" y="304.3" font-size="6.6" text-anchor="middle" font-weight="normal" fill="#2a2a2a" >RT</text>
<text x="47.1" y="312.2" font-size="6.6" text-anchor="middle" font-weight="normal" fill="#2a2a2a" >stored</text>
<text x="77.5" y="304.3" font-size="6.6" text-anchor="middle" font-weight="normal" fill="#2a2a2a" >Cold</text>
<text x="77.5" y="312.2" font-size="6.6" text-anchor="middle" font-weight="normal" fill="#2a2a2a" >stored</text>
<rect x="32" y="316.7" width="63" height="18.1" fill="#fafafa" stroke="#1a1a1a" stroke-width="1.0" />
<rect x="32" y="334.8" width="63" height="16.4" fill="#f8f8f8" stroke="#1a1a1a" stroke-width="1.0" />
<text x="21.5" y="327.6" font-size="6.6" text-anchor="middle" font-weight="normal" fill="#2a2a2a" >21</text>
<line x1="28.3" y1="325.3" x2="32" y2="325.3" stroke="#111" stroke-width="1.0" />
<text x="21.5" y="345.40000000000003" font-size="6.6" text-anchor="middle" font-weight="normal" fill="#2a2a2a" >21</text>
<line x1="28.3" y1="343.1" x2="32" y2="343.1" stroke="#111" stroke-width="1.0" />
<rect x="39.0" y="326.20" width="21.6" height="2.60" rx="1.30" fill="#111" opacity="0.35" filter="url(#b1)"/>
<rect x="66.5" y="324.70" width="26.5" height="5.20" rx="2.60" fill="#111" opacity="0.98" filter="url(#b1)"/>
<rect x="35.0" y="342.65" width="25.6" height="3.10" rx="1.55" fill="#111" opacity="0.95" filter="url(#b3)"/>
<rect x="67.3" y="342.65" width="22.9" height="3.10" rx="1.55" fill="#111" opacity="0.95" filter="url(#b3)"/>
<text x="97.5" y="327.6" font-size="6.6" text-anchor="start" font-weight="normal" fill="#2a2a2a" >RHOA-GTP</text>
<text x="97.5" y="345.4" font-size="6.6" text-anchor="start" font-weight="normal" fill="#2a2a2a" >RHOA</text>
<text x="47.1" y="360.8" font-size="6.6" text-anchor="middle" font-weight="normal" fill="#2a2a2a" >1</text>
<text x="77.5" y="360.8" font-size="6.6" text-anchor="middle" font-weight="normal" fill="#2a2a2a" >3.5</text>
<rect x="32" y="368" width="63" height="20.3" fill="#f0f0f0" stroke="#1a1a1a" stroke-width="1.0" />
<rect x="32" y="388.3" width="63" height="18.8" fill="#f9f9f9" stroke="#1a1a1a" stroke-width="1.0" />
<text x="21.5" y="380.6" font-size="6.6" text-anchor="middle" font-weight="normal" fill="#2a2a2a" >21</text>
<line x1="28.3" y1="378.3" x2="32" y2="378.3" stroke="#111" stroke-width="1.0" />
<text x="21.5" y="400.0" font-size="6.6" text-anchor="middle" font-weight="normal" fill="#2a2a2a" >21</text>
<line x1="28.3" y1="397.7" x2="32" y2="397.7" stroke="#111" stroke-width="1.0" />
<rect x="34.0" y="375.30" width="26.6" height="3.40" rx="1.70" fill="#111" opacity="0.85" filter="url(#b1)"/>
<rect x="66.0" y="372.90" width="28.0" height="5.40" rx="2.70" fill="#111" opacity="0.97" filter="url(#b1)"/>
<rect x="35.0" y="396.55" width="25.6" height="3.30" rx="1.65" fill="#111" opacity="0.95" filter="url(#b3)"/>
<rect x="67.3" y="396.85" width="24.2" height="3.30" rx="1.65" fill="#111" opacity="0.95" filter="url(#b3)"/>
<text x="97.5" y="381.1" font-size="6.6" text-anchor="start" font-weight="normal" fill="#2a2a2a" >RAC-GTP</text>
<text x="97.5" y="400" font-size="6.6" text-anchor="start" font-weight="normal" fill="#2a2a2a" >RAC</text>
<text x="97.5" y="410.3" font-size="6.6" text-anchor="start" font-weight="normal" fill="#2a2a2a" >Normalized</text>
<text x="97.5" y="418.3" font-size="6.6" text-anchor="start" font-weight="normal" fill="#2a2a2a" >Ratio</text>
<text x="47.1" y="415.3" font-size="6.6" text-anchor="middle" font-weight="normal" fill="#2a2a2a" >1</text>
<text x="77.5" y="415.3" font-size="6.6" text-anchor="middle" font-weight="normal" fill="#2a2a2a" >2.5</text>
<rect x="32" y="426.5" width="63" height="15.6" fill="#f9f9f9" stroke="#1a1a1a" stroke-width="1.0" />
<rect x="32" y="442.1" width="63" height="12.1" fill="#f6f6f6" stroke="#1a1a1a" stroke-width="1.0" />
<text x="21.5" y="436.3" font-size="6.6" text-anchor="middle" font-weight="normal" fill="#2a2a2a" >21</text>
<line x1="28.3" y1="434" x2="32" y2="434" stroke="#111" stroke-width="1.0" />
<text x="21.5" y="450.3" font-size="6.6" text-anchor="middle" font-weight="normal" fill="#2a2a2a" >21</text>
<line x1="28.3" y1="448" x2="32" y2="448" stroke="#111" stroke-width="1.0" />
<rect x="40.4" y="429.85" width="20.2" height="3.10" rx="1.55" fill="#111" opacity="0.3" filter="url(#b3)"/>
<rect x="71.4" y="431.95" width="18.8" height="3.10" rx="1.55" fill="#111" opacity="0.3" filter="url(#b3)"/>
<rect x="35.0" y="447.75" width="25.6" height="3.30" rx="1.65" fill="#111" opacity="0.95" filter="url(#b3)"/>
<rect x="66.0" y="446.65" width="24.2" height="3.30" rx="1.65" fill="#111" opacity="0.95" filter="url(#b3)"/>
<text x="97.5" y="436.3" font-size="6.6" text-anchor="start" font-weight="normal" fill="#2a2a2a" >CDC42-GTP</text>
<text x="97.5" y="450.3" font-size="6.6" text-anchor="start" font-weight="normal" fill="#2a2a2a" >CDC42</text>
<text x="97.5" y="460.6" font-size="6.6" text-anchor="start" font-weight="normal" fill="#2a2a2a" >Normalized</text>
<text x="97.5" y="468.1" font-size="6.6" text-anchor="start" font-weight="normal" fill="#2a2a2a" >Ratio</text>
<text x="47.1" y="464.1" font-size="6.6" text-anchor="middle" font-weight="normal" fill="#2a2a2a" >1</text>
<text x="77.5" y="464.1" font-size="6.6" text-anchor="middle" font-weight="normal" fill="#2a2a2a" >1.0</text>
<text x="150.6" y="291.6" font-size="12.3" text-anchor="start" font-weight="bold" fill="#111" >F</text>
<text x="248.5" y="308.8" font-size="6.6" text-anchor="middle" font-weight="normal" fill="#2a2a2a" >7-day storage</text>
<line x1="180.7" y1="313.5" x2="315.8" y2="313.5" stroke="#222" stroke-width="0.8" />
<text x="187.4" y="322.3" font-size="6.6" text-anchor="middle" font-weight="normal" fill="#2a2a2a" >RT</text>
<line x1="178.2" y1="327.3" x2="196.2" y2="327.3" stroke="#222" stroke-width="0.8" />
<text x="262.7" y="322.3" font-size="6.6" text-anchor="middle" font-weight="normal" fill="#2a2a2a" >Cold</text>
<line x1="208.8" y1="327.3" x2="318" y2="327.3" stroke="#222" stroke-width="0.8" />
<text transform="translate(189.3 351.2) rotate(-90)" font-size="6.3" text-anchor="start" font-weight="normal" fill="#2a2a2a" >Vehicle</text>
<text transform="translate(219.3 351.2) rotate(-90)" font-size="6.3" text-anchor="start" font-weight="normal" fill="#2a2a2a" >Vehicle</text>
<text transform="translate(249.3 351.2) rotate(-90)" font-size="6.3" text-anchor="start" font-weight="normal" fill="#2a2a2a" >NSC</text>
<text transform="translate(279.5 351.2) rotate(-90)" font-size="6.3" text-anchor="start" font-weight="normal" fill="#2a2a2a" >R-G04</text>
<text transform="translate(303.5 351.2) rotate(-90)" font-size="6.3" text-anchor="start" font-weight="normal" fill="#2a2a2a" >NSC +</text>
<text transform="translate(311 351.2) rotate(-90)" font-size="6.3" text-anchor="start" font-weight="normal" fill="#2a2a2a" >R-G04</text>
<rect x="174.2" y="353.8" width="146.2" height="13.9" fill="#ededed" stroke="#1a1a1a" stroke-width="1.0" />
<rect x="174.2" y="367.7" width="146.2" height="15" fill="#f8f8f8" stroke="#1a1a1a" stroke-width="1.0" />
<text x="164.3" y="363.5" font-size="6.6" text-anchor="middle" font-weight="normal" fill="#2a2a2a" >21</text>
<line x1="171" y1="361.2" x2="174.2" y2="361.2" stroke="#111" stroke-width="1.0" />
<text x="164.3" y="377.6" font-size="6.6" text-anchor="middle" font-weight="normal" fill="#2a2a2a" >21</text>
<line x1="171" y1="375.3" x2="174.2" y2="375.3" stroke="#111" stroke-width="1.0" />
<rect x="176.0" y="359.00" width="23.5" height="5.00" rx="2.50" fill="#111" opacity="0.16" filter="url(#b2)"/>
<rect x="205.4" y="356.80" width="24.6" height="8.00" rx="4.00" fill="#111" opacity="0.5" filter="url(#b2)"/>
<rect x="207.0" y="358.50" width="15.0" height="3.00" rx="1.50" fill="#111" opacity="0.35" filter="url(#b2)"/>
<rect x="234.5" y="358.00" width="24.0" height="6.00" rx="3.00" fill="#111" opacity="0.42" filter="url(#b2)"/>
<rect x="236.0" y="359.25" width="14.0" height="2.50" rx="1.25" fill="#111" opacity="0.3" filter="url(#b2)"/>
<rect x="300.0" y="359.50" width="18.0" height="5.00" rx="2.50" fill="#111" opacity="0.07" filter="url(#b2)"/>
<rect x="175.4" y="372.75" width="23.1" height="2.90" rx="1.45" fill="#111" opacity="0.85" filter="url(#b3)" transform="rotate(4 186.95 374.2)"/>
<rect x="202.0" y="373.95" width="28.5" height="3.70" rx="1.85" fill="#111" opacity="0.9" filter="url(#b3)"/>
<rect x="233.5" y="374.25" width="28.0" height="3.10" rx="1.55" fill="#111" opacity="0.9" filter="url(#b3)"/>
<rect x="266.5" y="374.75" width="22.5" height="2.90" rx="1.45" fill="#111" opacity="0.9" filter="url(#b3)"/>
<rect x="296.5" y="375.35" width="23.0" height="3.30" rx="1.65" fill="#111" opacity="0.9" filter="url(#b3)"/>
<text x="323.4" y="363.5" font-size="6.6" text-anchor="start" font-weight="normal" fill="#2a2a2a" >RHOA-GTP</text>
<text x="323.4" y="377.6" font-size="6.6" text-anchor="start" font-weight="normal" fill="#2a2a2a" >RHOA</text>
<text x="323.4" y="388" font-size="6.6" text-anchor="start" font-weight="normal" fill="#2a2a2a" >Normalized</text>
<text x="323.4" y="395.3" font-size="6.6" text-anchor="start" font-weight="normal" fill="#2a2a2a" >Ratio</text>
<text x="188" y="391.5" font-size="6.6" text-anchor="middle" font-weight="normal" fill="#2a2a2a" >1</text>
<text x="218" y="391.5" font-size="6.6" text-anchor="middle" font-weight="normal" fill="#2a2a2a" >2.4</text>
<text x="248" y="391.5" font-size="6.6" text-anchor="middle" font-weight="normal" fill="#2a2a2a" >2.1</text>
<text x="278.8" y="391.5" font-size="6.6" text-anchor="middle" font-weight="normal" fill="#2a2a2a" >0.2</text>
<text x="308.8" y="391.5" font-size="6.6" text-anchor="middle" font-weight="normal" fill="#2a2a2a" >0.2</text>
<rect x="174.2" y="403.5" width="146.2" height="17" fill="#fafafa" stroke="#1a1a1a" stroke-width="1.0" />
<rect x="174.2" y="420.5" width="146.2" height="16.7" fill="#f6f6f6" stroke="#1a1a1a" stroke-width="1.0" />
<text x="164.3" y="414.1" font-size="6.6" text-anchor="middle" font-weight="normal" fill="#2a2a2a" >21</text>
<line x1="171" y1="411.8" x2="174.2" y2="411.8" stroke="#111" stroke-width="1.0" />
<text x="164.3" y="431.1" font-size="6.6" text-anchor="middle" font-weight="normal" fill="#2a2a2a" >21</text>
<line x1="171" y1="428.8" x2="174.2" y2="428.8" stroke="#111" stroke-width="1.0" />
<rect x="232.0" y="406.00" width="30.0" height="5.00" rx="2.50" fill="#111" opacity="0.07" filter="url(#b2)"/>
<rect x="296.0" y="408.00" width="22.0" height="6.00" rx="3.00" fill="#111" opacity="0.06" filter="url(#b2)"/>
<rect x="182.3" y="410.70" width="13.9" height="1.20" rx="0.60" fill="#111" opacity="0.22" filter="url(#b1)"/>
<rect x="207.7" y="409.20" width="18.5" height="7.00" rx="3.50" fill="#111" opacity="0.45" filter="url(#b2)"/>
<rect x="209.0" y="412.50" width="15.0" height="3.00" rx="1.50" fill="#111" opacity="0.3" filter="url(#b2)"/>
<rect x="237.7" y="412.80" width="18.5" height="1.60" rx="0.80" fill="#111" opacity="0.2" filter="url(#b1)"/>
<rect x="265.4" y="415.20" width="18.4" height="1.60" rx="0.80" fill="#111" opacity="0.22" filter="url(#b1)"/>
<rect x="295.4" y="414.80" width="20.8" height="2.40" rx="1.20" fill="#111" opacity="0.35" filter="url(#b1)"/>
<rect x="177.7" y="425.40" width="20.8" height="2.20" rx="1.10" fill="#111" opacity="0.6" filter="url(#b1)" transform="rotate(7 188.1 426.5)"/>
<rect x="207.7" y="427.30" width="20.8" height="3.00" rx="1.50" fill="#111" opacity="0.85" filter="url(#b1)"/>
<rect x="237.7" y="428.30" width="20.8" height="3.00" rx="1.50" fill="#111" opacity="0.85" filter="url(#b1)"/>
<rect x="265.4" y="429.20" width="20.8" height="3.60" rx="1.80" fill="#111" opacity="0.95" filter="url(#b1)"/>
<rect x="295.4" y="429.20" width="21.6" height="3.60" rx="1.80" fill="#111" opacity="0.95" filter="url(#b1)"/>
<text x="323.4" y="414.1" font-size="6.6" text-anchor="start" font-weight="normal" fill="#2a2a2a" >RAC-GTP</text>
<text x="323.4" y="431.1" font-size="6.6" text-anchor="start" font-weight="normal" fill="#2a2a2a" >RAC</text>
<text x="323.4" y="441.8" font-size="6.6" text-anchor="start" font-weight="normal" fill="#2a2a2a" >Normalized</text>
<text x="323.4" y="448.7" font-size="6.6" text-anchor="start" font-weight="normal" fill="#2a2a2a" >Ratio</text>
<text x="189.2" y="447.3" font-size="6.6" text-anchor="middle" font-weight="normal" fill="#2a2a2a" >1</text>
<text x="218.3" y="447.3" font-size="6.6" text-anchor="middle" font-weight="normal" fill="#2a2a2a" >2.5</text>
<text x="248.3" y="447.3" font-size="6.6" text-anchor="middle" font-weight="normal" fill="#2a2a2a" >0.3</text>
<text x="278.3" y="447.3" font-size="6.6" text-anchor="middle" font-weight="normal" fill="#2a2a2a" >0.4</text>
<text x="308.3" y="447.3" font-size="6.6" text-anchor="middle" font-weight="normal" fill="#2a2a2a" >0.3</text>
<text x="6.9" y="496.2" font-size="12.3" text-anchor="start" font-weight="bold" fill="#111" >G</text>
<text transform="translate(89 490.3) rotate(-90) scale(0.94 1)" font-size="8" text-anchor="middle" font-weight="normal" fill="#2a2a2a" >RT</text>
<text transform="translate(89 520.5) rotate(-90) scale(0.94 1)" font-size="8" text-anchor="middle" font-weight="normal" fill="#2a2a2a" >Cold</text>
<line x1="93.8" y1="500.5" x2="93.8" y2="540" stroke="#222" stroke-width="0.9" />
<line x1="98.8" y1="490.5" x2="113.8" y2="490.5" stroke="#c4122f" stroke-width="1.2" />
<circle cx="106.3" cy="490.5" r="2.2" fill="#c4122f"/>
<text transform="translate(117.5 493.2) rotate(0) scale(0.96 1)" font-size="8.2" text-anchor="start" font-weight="normal" fill="#2a2a2a" >Vehicle</text>
<line x1="98.8" y1="500.5" x2="113.8" y2="500.5" stroke="#1d5487" stroke-width="1.2" />
<circle cx="106.3" cy="500.5" r="2.2" fill="#1d5487"/>
<text transform="translate(117.5 503.2) rotate(0) scale(0.96 1)" font-size="8.2" text-anchor="start" font-weight="normal" fill="#2a2a2a" >Vehicle</text>
<line x1="98.8" y1="510.5" x2="113.8" y2="510.5" stroke="#3fa535" stroke-width="1.2" />
<circle cx="106.3" cy="510.5" r="2.2" fill="#3fa535"/>
<text transform="translate(117.5 513.2) rotate(0) scale(0.96 1)" font-size="8.2" text-anchor="start" font-weight="normal" fill="#2a2a2a" >Casin</text>
<line x1="98.8" y1="520" x2="113.8" y2="520" stroke="#f39a1e" stroke-width="1.2" />
<circle cx="106.3" cy="520.0" r="2.2" fill="#f39a1e"/>
<text transform="translate(117.5 522.7) rotate(0) scale(0.96 1)" font-size="8.2" text-anchor="start" font-weight="normal" fill="#2a2a2a" >NSC</text>
<line x1="98.8" y1="530" x2="113.8" y2="530" stroke="#6a2c85" stroke-width="1.2" />
<circle cx="106.3" cy="530.0" r="2.2" fill="#6a2c85"/>
<text transform="translate(117.5 532.7) rotate(0) scale(0.96 1)" font-size="8.2" text-anchor="start" font-weight="normal" fill="#2a2a2a" >R-G04</text>
<line x1="98.8" y1="539.8" x2="113.8" y2="539.8" stroke="#7b3f1e" stroke-width="1.2" />
<circle cx="106.3" cy="539.8" r="2.2" fill="#7b3f1e"/>
<text transform="translate(117.5 542.5) rotate(0) scale(0.96 1)" font-size="8.2" text-anchor="start" font-weight="normal" fill="#2a2a2a" >Casin+NSC+R-G04</text>
<line x1="50.6" y1="507.8" x2="50.6" y2="625.9" stroke="#222" stroke-width="1.2" />
<line x1="50.0" y1="625.3" x2="203" y2="625.3" stroke="#222" stroke-width="1.2" />
<line x1="47.4" y1="508.8" x2="50.6" y2="508.8" stroke="#222" stroke-width="0.9" />
<text transform="translate(44.300000000000004 511.6) scale(0.94 1)" font-size="8.2" text-anchor="end" font-weight="normal" fill="#222" >100</text>
<line x1="48.6" y1="541.9311782055273" x2="50.6" y2="541.9311782055273" stroke="#222" stroke-width="0.8" />
<line x1="48.6" y1="533.584452526288" x2="50.6" y2="533.584452526288" stroke="#222" stroke-width="0.8" />
<line x1="48.6" y1="527.6623564110546" x2="50.6" y2="527.6623564110546" stroke="#222" stroke-width="0.8" />
<line x1="48.6" y1="523.0688217944727" x2="50.6" y2="523.0688217944727" stroke="#222" stroke-width="0.8" />
<line x1="48.6" y1="519.3156307318153" x2="50.6" y2="519.3156307318153" stroke="#222" stroke-width="0.8" />
<line x1="48.6" y1="516.1423529033242" x2="50.6" y2="516.1423529033242" stroke="#222" stroke-width="0.8" />
<line x1="48.6" y1="513.3935346165819" x2="50.6" y2="513.3935346165819" stroke="#222" stroke-width="0.8" />
<line x1="48.6" y1="510.968905052576" x2="50.6" y2="510.968905052576" stroke="#222" stroke-width="0.8" />
<line x1="47.4" y1="556.2" x2="50.6" y2="556.2" stroke="#222" stroke-width="0.9" />
<text transform="translate(44.300000000000004 559.0) scale(0.94 1)" font-size="8.2" text-anchor="end" font-weight="normal" fill="#222" >10</text>
<line x1="48.6" y1="589.3311782055273" x2="50.6" y2="589.3311782055273" stroke="#222" stroke-width="0.8" />
<line x1="48.6" y1="580.984452526288" x2="50.6" y2="580.984452526288" stroke="#222" stroke-width="0.8" />
<line x1="48.6" y1="575.0623564110547" x2="50.6" y2="575.0623564110547" stroke="#222" stroke-width="0.8" />
<line x1="48.6" y1="570.4688217944728" x2="50.6" y2="570.4688217944728" stroke="#222" stroke-width="0.8" />
<line x1="48.6" y1="566.7156307318153" x2="50.6" y2="566.7156307318153" stroke="#222" stroke-width="0.8" />
<line x1="48.6" y1="563.5423529033243" x2="50.6" y2="563.5423529033243" stroke="#222" stroke-width="0.8" />
<line x1="48.6" y1="560.793534616582" x2="50.6" y2="560.793534616582" stroke="#222" stroke-width="0.8" />
<line x1="48.6" y1="558.368905052576" x2="50.6" y2="558.368905052576" stroke="#222" stroke-width="0.8" />
<line x1="47.4" y1="603.6" x2="50.6" y2="603.6" stroke="#222" stroke-width="0.9" />
<text transform="translate(44.300000000000004 606.4) scale(0.94 1)" font-size="8.2" text-anchor="end" font-weight="normal" fill="#222" >1</text>
<line x1="48.6" y1="622.4623564110547" x2="50.6" y2="622.4623564110547" stroke="#222" stroke-width="0.8" />
<line x1="48.6" y1="617.8688217944728" x2="50.6" y2="617.8688217944728" stroke="#222" stroke-width="0.8" />
<line x1="48.6" y1="614.1156307318153" x2="50.6" y2="614.1156307318153" stroke="#222" stroke-width="0.8" />
<line x1="48.6" y1="610.9423529033243" x2="50.6" y2="610.9423529033243" stroke="#222" stroke-width="0.8" />
<line x1="48.6" y1="608.1935346165819" x2="50.6" y2="608.1935346165819" stroke="#222" stroke-width="0.8" />
<line x1="48.6" y1="605.768905052576" x2="50.6" y2="605.768905052576" stroke="#222" stroke-width="0.8" />
<line x1="50.6" y1="625.3" x2="50.6" y2="628.3" stroke="#222" stroke-width="0.9" />
<text transform="translate(50.6 638.3) scale(0.93 1)" font-size="8.5" text-anchor="middle" font-weight="normal" fill="#222" >0</text>
<line x1="100.2" y1="625.3" x2="100.2" y2="628.3" stroke="#222" stroke-width="0.9" />
<text transform="translate(100.2 638.3) scale(0.93 1)" font-size="8.5" text-anchor="middle" font-weight="normal" fill="#222" >500</text>
<line x1="149.8" y1="625.3" x2="149.8" y2="628.3" stroke="#222" stroke-width="0.9" />
<text transform="translate(149.8 638.3) scale(0.93 1)" font-size="8.5" text-anchor="middle" font-weight="normal" fill="#222" >1000</text>
<line x1="199.39999999999998" y1="625.3" x2="199.39999999999998" y2="628.3" stroke="#222" stroke-width="0.9" />
<text transform="translate(199.39999999999998 638.3) scale(0.93 1)" font-size="8.5" text-anchor="middle" font-weight="normal" fill="#222" >1500</text>
<text transform="translate(127.2 652.5) scale(0.86 1)" font-size="9.3" text-anchor="middle" font-weight="normal" fill="#222" >Time (min)</text>
<text transform="translate(24.9 562.6) rotate(-90) scale(0.805 1)" font-size="9.2" text-anchor="middle" font-weight="normal" fill="#222" >Platelet recovery (%)</text>
<line x1="56.552" y1="541.9311782055273" x2="56.552" y2="560.7935346165818" stroke="#3fa535" stroke-width="0.7" />
<line x1="55.052" y1="541.9311782055273" x2="58.052" y2="541.9311782055273" stroke="#3fa535" stroke-width="0.7" />
<line x1="55.052" y1="560.7935346165818" x2="58.052" y2="560.7935346165818" stroke="#3fa535" stroke-width="0.7" />
<line x1="62.504000000000005" y1="552.4468089373426" x2="62.504000000000005" y2="570.4688217944728" stroke="#3fa535" stroke-width="0.7" />
<line x1="61.004000000000005" y1="552.4468089373426" x2="64.004" y2="552.4468089373426" stroke="#3fa535" stroke-width="0.7" />
<line x1="61.004000000000005" y1="570.4688217944728" x2="64.004" y2="570.4688217944728" stroke="#3fa535" stroke-width="0.7" />
<line x1="86.312" y1="583.9302633061832" x2="86.312" y2="595.2532743207607" stroke="#3fa535" stroke-width="0.7" />
<line x1="84.812" y1="583.9302633061832" x2="87.812" y2="583.9302633061832" stroke="#3fa535" stroke-width="0.7" />
<line x1="84.812" y1="595.2532743207607" x2="87.812" y2="595.2532743207607" stroke="#3fa535" stroke-width="0.7" />
<line x1="56.552" y1="540.9268054296123" x2="56.552" y2="554.2379867235002" stroke="#1d5487" stroke-width="0.7" />
<line x1="55.052" y1="540.9268054296123" x2="58.052" y2="540.9268054296123" stroke="#1d5487" stroke-width="0.7" />
<line x1="55.052" y1="554.2379867235002" x2="58.052" y2="554.2379867235002" stroke="#1d5487" stroke-width="0.7" />
<line x1="62.504000000000005" y1="547.8532743207608" x2="62.504000000000005" y2="560.7935346165818" stroke="#1d5487" stroke-width="0.7" />
<line x1="61.004000000000005" y1="547.8532743207608" x2="64.004" y2="547.8532743207608" stroke="#1d5487" stroke-width="0.7" />
<line x1="61.004000000000005" y1="560.7935346165818" x2="64.004" y2="560.7935346165818" stroke="#1d5487" stroke-width="0.7" />
<line x1="86.312" y1="583.9302633061832" x2="86.312" y2="594.5782775067282" stroke="#1d5487" stroke-width="0.7" />
<line x1="84.812" y1="583.9302633061832" x2="87.812" y2="583.9302633061832" stroke="#1d5487" stroke-width="0.7" />
<line x1="84.812" y1="594.5782775067282" x2="87.812" y2="594.5782775067282" stroke="#1d5487" stroke-width="0.7" />
<line x1="98.21600000000001" y1="595.2532743207607" x2="98.21600000000001" y2="617.8688217944728" stroke="#1d5487" stroke-width="0.7" />
<line x1="96.71600000000001" y1="595.2532743207607" x2="99.71600000000001" y2="595.2532743207607" stroke="#1d5487" stroke-width="0.7" />
<line x1="96.71600000000001" y1="617.8688217944728" x2="99.71600000000001" y2="617.8688217944728" stroke="#1d5487" stroke-width="0.7" />
<line x1="56.552" y1="529.8312614636305" x2="56.552" y2="539.9691649290274" stroke="#f39a1e" stroke-width="0.7" />
<line x1="55.052" y1="529.8312614636305" x2="58.052" y2="529.8312614636305" stroke="#f39a1e" stroke-width="0.7" />
<line x1="55.052" y1="539.9691649290274" x2="58.052" y2="539.9691649290274" stroke="#f39a1e" stroke-width="0.7" />
<line x1="62.504000000000005" y1="540.9268054296123" x2="62.504000000000005" y2="549.2735311088516" stroke="#f39a1e" stroke-width="0.7" />
<line x1="61.004000000000005" y1="540.9268054296123" x2="64.004" y2="540.9268054296123" stroke="#f39a1e" stroke-width="0.7" />
<line x1="61.004000000000005" y1="549.2735311088516" x2="64.004" y2="549.2735311088516" stroke="#f39a1e" stroke-width="0.7" />
<line x1="86.312" y1="564.1390775377245" x2="86.312" y2="569.2693237809226" stroke="#f39a1e" stroke-width="0.7" />
<line x1="84.812" y1="564.1390775377245" x2="87.812" y2="564.1390775377245" stroke="#f39a1e" stroke-width="0.7" />
<line x1="84.812" y1="569.2693237809226" x2="87.812" y2="569.2693237809226" stroke="#f39a1e" stroke-width="0.7" />
<line x1="98.21600000000001" y1="577.2312614636306" x2="98.21600000000001" y2="584.7376435889454" stroke="#f39a1e" stroke-width="0.7" />
<line x1="96.71600000000001" y1="577.2312614636306" x2="99.71600000000001" y2="577.2312614636306" stroke="#f39a1e" stroke-width="0.7" />
<line x1="96.71600000000001" y1="584.7376435889454" x2="99.71600000000001" y2="584.7376435889454" stroke="#f39a1e" stroke-width="0.7" />
<line x1="193.44799999999998" y1="598.1990851006559" x2="193.44799999999998" y2="617.8688217944728" stroke="#f39a1e" stroke-width="0.7" />
<line x1="191.94799999999998" y1="598.1990851006559" x2="194.94799999999998" y2="598.1990851006559" stroke="#f39a1e" stroke-width="0.7" />
<line x1="191.94799999999998" y1="617.8688217944728" x2="194.94799999999998" y2="617.8688217944728" stroke="#f39a1e" stroke-width="0.7" />
<line x1="86.312" y1="556.2" x2="86.312" y2="563.5423529033242" stroke="#6a2c85" stroke-width="0.7" />
<line x1="84.812" y1="556.2" x2="87.812" y2="556.2" stroke="#6a2c85" stroke-width="0.7" />
<line x1="84.812" y1="563.5423529033242" x2="87.812" y2="563.5423529033242" stroke="#6a2c85" stroke-width="0.7" />
<line x1="98.21600000000001" y1="563.5423529033242" x2="98.21600000000001" y2="570.4688217944728" stroke="#6a2c85" stroke-width="0.7" />
<line x1="96.71600000000001" y1="563.5423529033242" x2="99.71600000000001" y2="563.5423529033242" stroke="#6a2c85" stroke-width="0.7" />
<line x1="96.71600000000001" y1="570.4688217944728" x2="99.71600000000001" y2="570.4688217944728" stroke="#6a2c85" stroke-width="0.7" />
<line x1="86.312" y1="556.2" x2="86.312" y2="563.5423529033242" stroke="#7b3f1e" stroke-width="0.7" />
<line x1="84.812" y1="556.2" x2="87.812" y2="556.2" stroke="#7b3f1e" stroke-width="0.7" />
<line x1="84.812" y1="563.5423529033242" x2="87.812" y2="563.5423529033242" stroke="#7b3f1e" stroke-width="0.7" />
<line x1="98.21600000000001" y1="562.1220961152334" x2="98.21600000000001" y2="568.5068085179729" stroke="#7b3f1e" stroke-width="0.7" />
<line x1="96.71600000000001" y1="562.1220961152334" x2="99.71600000000001" y2="562.1220961152334" stroke="#7b3f1e" stroke-width="0.7" />
<line x1="96.71600000000001" y1="568.5068085179729" x2="99.71600000000001" y2="568.5068085179729" stroke="#7b3f1e" stroke-width="0.7" />
<line x1="193.44799999999998" y1="585.5779871428699" x2="193.44799999999998" y2="593.9247128221092" stroke="#7b3f1e" stroke-width="0.7" />
<line x1="191.94799999999998" y1="585.5779871428699" x2="194.94799999999998" y2="585.5779871428699" stroke="#7b3f1e" stroke-width="0.7" />
<line x1="191.94799999999998" y1="593.9247128221092" x2="194.94799999999998" y2="593.9247128221092" stroke="#7b3f1e" stroke-width="0.7" />
<line x1="62.504000000000005" y1="535.753357578864" x2="62.504000000000005" y2="544.1000832581033" stroke="#c4122f" stroke-width="0.7" />
<line x1="61.004000000000005" y1="535.753357578864" x2="64.004" y2="535.753357578864" stroke="#c4122f" stroke-width="0.7" />
<line x1="61.004000000000005" y1="544.1000832581033" x2="64.004" y2="544.1000832581033" stroke="#c4122f" stroke-width="0.7" />
<line x1="86.312" y1="550.7990851006559" x2="86.312" y2="560.7935346165818" stroke="#c4122f" stroke-width="0.7" />
<line x1="84.812" y1="550.7990851006559" x2="87.812" y2="550.7990851006559" stroke="#c4122f" stroke-width="0.7" />
<line x1="84.812" y1="560.7935346165818" x2="87.812" y2="560.7935346165818" stroke="#c4122f" stroke-width="0.7" />
<line x1="98.21600000000001" y1="566.7156307318153" x2="98.21600000000001" y2="574.0579836351395" stroke="#c4122f" stroke-width="0.7" />
<line x1="96.71600000000001" y1="566.7156307318153" x2="99.71600000000001" y2="566.7156307318153" stroke="#c4122f" stroke-width="0.7" />
<line x1="96.71600000000001" y1="574.0579836351395" x2="99.71600000000001" y2="574.0579836351395" stroke="#c4122f" stroke-width="0.7" />
<line x1="193.44799999999998" y1="577.8111746977969" x2="193.44799999999998" y2="583.9302633061832" stroke="#c4122f" stroke-width="0.7" />
<line x1="191.94799999999998" y1="577.8111746977969" x2="194.94799999999998" y2="577.8111746977969" stroke="#c4122f" stroke-width="0.7" />
<line x1="191.94799999999998" y1="583.9302633061832" x2="194.94799999999998" y2="583.9302633061832" stroke="#c4122f" stroke-width="0.7" />
<polyline points="50.6,508.8 52.1,513.4 53.6,519.3 56.6,550.3 62.5,560.8 86.3,589.3" fill="none" stroke="#3fa535" stroke-width="1.15" stroke-linejoin="round"/>
<circle cx="50.6" cy="508.8" r="1.6" fill="#3fa535"/>
<circle cx="52.1" cy="513.4" r="1.6" fill="#3fa535"/>
<circle cx="53.6" cy="519.3" r="1.6" fill="#3fa535"/>
<circle cx="56.6" cy="550.3" r="1.6" fill="#3fa535"/>
<circle cx="62.5" cy="560.8" r="1.6" fill="#3fa535"/>
<circle cx="86.3" cy="589.3" r="1.6" fill="#3fa535"/>
<polyline points="50.6,508.8 52.1,512.1 53.6,516.1 56.6,547.9 62.5,554.2 86.3,589.3 98.2,603.6" fill="none" stroke="#1d5487" stroke-width="1.15" stroke-linejoin="round"/>
<circle cx="50.6" cy="508.8" r="1.6" fill="#1d5487"/>
<circle cx="52.1" cy="512.1" r="1.6" fill="#1d5487"/>
<circle cx="53.6" cy="516.1" r="1.6" fill="#1d5487"/>
<circle cx="56.6" cy="547.9" r="1.6" fill="#1d5487"/>
<circle cx="62.5" cy="554.2" r="1.6" fill="#1d5487"/>
<circle cx="86.3" cy="589.3" r="1.6" fill="#1d5487"/>
<circle cx="98.2" cy="603.6" r="1.6" fill="#1d5487"/>
<polyline points="50.6,508.8 52.1,511.4 53.6,514.7 56.6,534.6 62.5,544.7 86.3,566.7 98.2,580.3 193.4,603.6" fill="none" stroke="#f39a1e" stroke-width="1.15" stroke-linejoin="round"/>
<circle cx="50.6" cy="508.8" r="1.6" fill="#f39a1e"/>
<circle cx="52.1" cy="511.4" r="1.6" fill="#f39a1e"/>
<circle cx="53.6" cy="514.7" r="1.6" fill="#f39a1e"/>
<circle cx="56.6" cy="534.6" r="1.6" fill="#f39a1e"/>
<circle cx="62.5" cy="544.7" r="1.6" fill="#f39a1e"/>
<circle cx="86.3" cy="566.7" r="1.6" fill="#f39a1e"/>
<circle cx="98.2" cy="580.3" r="1.6" fill="#f39a1e"/>
<circle cx="193.4" cy="603.6" r="1.6" fill="#f39a1e"/>
<polyline points="50.6,508.8 52.1,510.5 53.6,512.1 56.6,522.3 62.5,538.2 86.3,560.5 98.2,566.7 193.4,580.3" fill="none" stroke="#6a2c85" stroke-width="1.15" stroke-linejoin="round"/>
<circle cx="50.6" cy="508.8" r="1.6" fill="#6a2c85"/>
<circle cx="52.1" cy="510.5" r="1.6" fill="#6a2c85"/>
<circle cx="53.6" cy="512.1" r="1.6" fill="#6a2c85"/>
<circle cx="56.6" cy="522.3" r="1.6" fill="#6a2c85"/>
<circle cx="62.5" cy="538.2" r="1.6" fill="#6a2c85"/>
<circle cx="86.3" cy="560.5" r="1.6" fill="#6a2c85"/>
<circle cx="98.2" cy="566.7" r="1.6" fill="#6a2c85"/>
<circle cx="193.4" cy="580.3" r="1.6" fill="#6a2c85"/>
<polyline points="50.6,508.8 52.1,510.5 53.6,512.1 56.6,521.1 62.5,539.1 86.3,558.4 98.2,563.5 193.4,589.3" fill="none" stroke="#7b3f1e" stroke-width="1.15" stroke-linejoin="round"/>
<circle cx="50.6" cy="508.8" r="1.6" fill="#7b3f1e"/>
<circle cx="52.1" cy="510.5" r="1.6" fill="#7b3f1e"/>
<circle cx="53.6" cy="512.1" r="1.6" fill="#7b3f1e"/>
<circle cx="56.6" cy="521.1" r="1.6" fill="#7b3f1e"/>
<circle cx="62.5" cy="539.1" r="1.6" fill="#7b3f1e"/>
<circle cx="86.3" cy="558.4" r="1.6" fill="#7b3f1e"/>
<circle cx="98.2" cy="563.5" r="1.6" fill="#7b3f1e"/>
<circle cx="193.4" cy="589.3" r="1.6" fill="#7b3f1e"/>
<polyline points="50.6,508.8 52.1,509.9 53.6,511.4 56.6,521.1 62.5,540.0 86.3,554.2 98.2,570.9 193.4,581.0" fill="none" stroke="#c4122f" stroke-width="1.15" stroke-linejoin="round"/>
<circle cx="50.6" cy="508.8" r="1.6" fill="#c4122f"/>
<circle cx="52.1" cy="509.9" r="1.6" fill="#c4122f"/>
<circle cx="53.6" cy="511.4" r="1.6" fill="#c4122f"/>
<circle cx="56.6" cy="521.1" r="1.6" fill="#c4122f"/>
<circle cx="62.5" cy="540.0" r="1.6" fill="#c4122f"/>
<circle cx="86.3" cy="554.2" r="1.6" fill="#c4122f"/>
<circle cx="98.2" cy="570.9" r="1.6" fill="#c4122f"/>
<circle cx="193.4" cy="581.0" r="1.6" fill="#c4122f"/>
<circle cx="50.9" cy="505.5" r="1.6" fill="#c4122f"/>
<circle cx="50.9" cy="508.0" r="1.6" fill="#c4122f"/>
<circle cx="50.9" cy="510.5" r="1.6" fill="#c4122f"/>
<circle cx="50.9" cy="513.0" r="1.6" fill="#c4122f"/>
<text transform="translate(70.4 587.6) scale(0.95 1)" font-size="9.4" text-anchor="middle" font-weight="normal" fill="#222" >***</text>
<text transform="translate(109.6 610.1) scale(0.95 1)" font-size="9.4" text-anchor="middle" font-weight="normal" fill="#222" >***</text>
<text transform="translate(189.6 618.3) scale(0.95 1)" font-size="9.4" text-anchor="middle" font-weight="normal" fill="#222" >*</text>
<text x="225.4" y="496" font-size="12.3" text-anchor="start" font-weight="bold" fill="#111" >H</text>
<text x="334.2" y="499" font-size="6.6" text-anchor="middle" font-weight="normal" fill="#2a2a2a" >7-day storage</text>
<line x1="299" y1="501.6" x2="369.6" y2="501.6" stroke="#222" stroke-width="1.0" />
<text x="312" y="509.3" font-size="6.6" text-anchor="middle" font-weight="normal" fill="#2a2a2a" >RT</text>
<text x="342.8" y="509.3" font-size="6.6" text-anchor="middle" font-weight="normal" fill="#2a2a2a" >Cold</text>
<line x1="313.9" y1="512" x2="371.3" y2="512" stroke="#222" stroke-width="1.1" />
<rect x="299.20000000000005" y="553.2" width="6.7999999999999545" height="72.09999999999991" fill="#e98b80" stroke="none" stroke-width="0.8" />
<rect x="311.96000000000004" y="597" width="6.7999999999999545" height="28.299999999999955" fill="#8897c3" stroke="none" stroke-width="0.8" />
<rect x="324.72" y="593" width="6.7999999999999545" height="32.299999999999955" fill="#a9d69c" stroke="none" stroke-width="0.8" />
<rect x="337.48" y="574" width="6.7999999999999545" height="51.299999999999955" fill="#f9c68c" stroke="none" stroke-width="0.8" />
<rect x="350.24000000000007" y="544" width="6.7999999999999545" height="81.29999999999995" fill="#a585b8" stroke="none" stroke-width="0.8" />
<rect x="363.00000000000006" y="549.8" width="6.7999999999999545" height="75.5" fill="#a88b6b" stroke="none" stroke-width="0.8" />
<line x1="293.3" y1="507" x2="293.3" y2="625.9" stroke="#222" stroke-width="1.2" />
<line x1="292.7" y1="625.3" x2="374.5" y2="625.3" stroke="#222" stroke-width="1.2" />
<line x1="289.90000000000003" y1="625.3" x2="293.3" y2="625.3" stroke="#222" stroke-width="0.9" />
<text transform="translate(287.3 628.0) scale(0.86 1)" font-size="7.6" text-anchor="end" font-weight="normal" fill="#222" >0</text>
<line x1="289.90000000000003" y1="601.65" x2="293.3" y2="601.65" stroke="#222" stroke-width="0.9" />
<text transform="translate(287.3 604.35) scale(0.86 1)" font-size="7.6" text-anchor="end" font-weight="normal" fill="#222" >5000</text>
<line x1="289.90000000000003" y1="578.0" x2="293.3" y2="578.0" stroke="#222" stroke-width="0.9" />
<text transform="translate(287.3 580.7) scale(0.86 1)" font-size="7.6" text-anchor="end" font-weight="normal" fill="#222" >10000</text>
<line x1="289.90000000000003" y1="554.3499999999999" x2="293.3" y2="554.3499999999999" stroke="#222" stroke-width="0.9" />
<text transform="translate(287.3 557.05) scale(0.86 1)" font-size="7.6" text-anchor="end" font-weight="normal" fill="#222" >15000</text>
<line x1="289.90000000000003" y1="530.6999999999999" x2="293.3" y2="530.6999999999999" stroke="#222" stroke-width="0.9" />
<text transform="translate(287.3 533.4) scale(0.86 1)" font-size="7.6" text-anchor="end" font-weight="normal" fill="#222" >20000</text>
<line x1="289.90000000000003" y1="507.04999999999995" x2="293.3" y2="507.04999999999995" stroke="#222" stroke-width="0.9" />
<text transform="translate(287.3 509.74999999999994) scale(0.86 1)" font-size="7.6" text-anchor="end" font-weight="normal" fill="#222" >25000</text>
<line x1="302.6" y1="625.3" x2="302.6" y2="627.9" stroke="#222" stroke-width="0.9" />
<line x1="315.36" y1="625.3" x2="315.36" y2="627.9" stroke="#222" stroke-width="0.9" />
<line x1="328.12" y1="625.3" x2="328.12" y2="627.9" stroke="#222" stroke-width="0.9" />
<line x1="340.88" y1="625.3" x2="340.88" y2="627.9" stroke="#222" stroke-width="0.9" />
<line x1="353.64000000000004" y1="625.3" x2="353.64000000000004" y2="627.9" stroke="#222" stroke-width="0.9" />
<line x1="366.40000000000003" y1="625.3" x2="366.40000000000003" y2="627.9" stroke="#222" stroke-width="0.9" />
<text transform="translate(242.5 569.7) rotate(-90) scale(0.78 1)" font-size="8.6" text-anchor="middle" font-weight="normal" fill="#222" >AUC</text>
<text transform="translate(254.3 567.8) rotate(-90) scale(0.78 1)" font-size="8.6" text-anchor="middle" font-weight="normal" fill="#222" >(platelet recovery fraction</text>
<text transform="translate(264 564.8) rotate(-90) scale(0.84 1)" font-size="8.6" text-anchor="middle" font-weight="normal" fill="#222" >x time in minutes)</text>
<line x1="302.6" y1="546" x2="302.6" y2="561.5" stroke="#c4122f" stroke-width="0.7" />
<line x1="300.8" y1="546" x2="304.40000000000003" y2="546" stroke="#c4122f" stroke-width="0.7" />
<line x1="300.8" y1="561.5" x2="304.40000000000003" y2="561.5" stroke="#c4122f" stroke-width="0.7" />
<line x1="315.36" y1="588" x2="315.36" y2="600" stroke="#1c4a85" stroke-width="0.7" />
<line x1="313.56" y1="588" x2="317.16" y2="588" stroke="#1c4a85" stroke-width="0.7" />
<line x1="313.56" y1="600" x2="317.16" y2="600" stroke="#1c4a85" stroke-width="0.7" />
<line x1="328.12" y1="586" x2="328.12" y2="598" stroke="#3fa535" stroke-width="0.7" />
<line x1="326.32" y1="586" x2="329.92" y2="586" stroke="#3fa535" stroke-width="0.7" />
<line x1="326.32" y1="598" x2="329.92" y2="598" stroke="#3fa535" stroke-width="0.7" />
<line x1="340.88" y1="565" x2="340.88" y2="581" stroke="#f39a1e" stroke-width="0.7" />
<line x1="339.08" y1="565" x2="342.68" y2="565" stroke="#f39a1e" stroke-width="0.7" />
<line x1="339.08" y1="581" x2="342.68" y2="581" stroke="#f39a1e" stroke-width="0.7" />
<line x1="353.64000000000004" y1="537" x2="353.64000000000004" y2="551" stroke="#5b2478" stroke-width="0.7" />
<line x1="351.84000000000003" y1="537" x2="355.44000000000005" y2="537" stroke="#5b2478" stroke-width="0.7" />
<line x1="351.84000000000003" y1="551" x2="355.44000000000005" y2="551" stroke="#5b2478" stroke-width="0.7" />
<line x1="366.40000000000003" y1="541.5" x2="366.40000000000003" y2="558" stroke="#6d3b1b" stroke-width="0.7" />
<line x1="364.6" y1="541.5" x2="368.20000000000005" y2="541.5" stroke="#6d3b1b" stroke-width="0.7" />
<line x1="364.6" y1="558" x2="368.20000000000005" y2="558" stroke="#6d3b1b" stroke-width="0.7" />
<circle cx="302.7" cy="541.5" r="1.85" fill="#c4122f"/>
<circle cx="302.7" cy="546.5" r="1.85" fill="#c4122f"/>
<circle cx="302.7" cy="551.2" r="1.85" fill="#c4122f"/>
<circle cx="303.0" cy="556.2" r="1.85" fill="#c4122f"/>
<circle cx="302.7" cy="560.6" r="1.85" fill="#c4122f"/>
<circle cx="302.7" cy="565.8" r="1.85" fill="#c4122f"/>
<circle cx="315.0" cy="584.4" r="1.85" fill="#1c4a85"/>
<circle cx="314.6" cy="589.2" r="1.85" fill="#1c4a85"/>
<circle cx="312.7" cy="593.5" r="1.85" fill="#1c4a85"/>
<circle cx="316.9" cy="593.5" r="1.85" fill="#1c4a85"/>
<circle cx="313.0" cy="598.5" r="1.85" fill="#1c4a85"/>
<circle cx="317.5" cy="596.5" r="1.85" fill="#1c4a85"/>
<circle cx="325.8" cy="582.0" r="1.85" fill="#3fa535"/>
<circle cx="330.4" cy="584.4" r="1.85" fill="#3fa535"/>
<circle cx="328.0" cy="588.8" r="1.85" fill="#3fa535"/>
<circle cx="326.2" cy="592.7" r="1.85" fill="#3fa535"/>
<circle cx="330.4" cy="592.7" r="1.85" fill="#3fa535"/>
<circle cx="325.8" cy="596.0" r="1.85" fill="#3fa535"/>
<circle cx="329.0" cy="594.6" r="1.85" fill="#3fa535"/>
<circle cx="338.7" cy="563.3" r="1.85" fill="#f39a1e"/>
<circle cx="343.0" cy="564.6" r="1.85" fill="#f39a1e"/>
<circle cx="340.6" cy="570.4" r="1.85" fill="#f39a1e"/>
<circle cx="341.2" cy="572.9" r="1.85" fill="#f39a1e"/>
<circle cx="340.6" cy="575.8" r="1.85" fill="#f39a1e"/>
<circle cx="340.6" cy="581.2" r="1.85" fill="#f39a1e"/>
<circle cx="353.5" cy="533.5" r="1.85" fill="#5b2478"/>
<circle cx="353.5" cy="538.3" r="1.85" fill="#5b2478"/>
<circle cx="351.2" cy="542.7" r="1.85" fill="#5b2478"/>
<circle cx="356.3" cy="545.0" r="1.85" fill="#5b2478"/>
<circle cx="353.5" cy="548.8" r="1.85" fill="#5b2478"/>
<circle cx="353.5" cy="552.7" r="1.85" fill="#5b2478"/>
<circle cx="366.5" cy="538.3" r="1.85" fill="#6d3b1b"/>
<circle cx="363.7" cy="546.0" r="1.85" fill="#6d3b1b"/>
<circle cx="368.8" cy="544.0" r="1.85" fill="#6d3b1b"/>
<circle cx="366.5" cy="549.8" r="1.85" fill="#6d3b1b"/>
<circle cx="366.5" cy="555.6" r="1.85" fill="#6d3b1b"/>
<circle cx="366.5" cy="561.3" r="1.85" fill="#6d3b1b"/>
<text transform="translate(315.1 582.2) scale(0.9 1)" font-size="7.5" text-anchor="middle" font-weight="normal" fill="#222" >***</text>
<text transform="translate(328 576) scale(0.9 1)" font-size="7.5" text-anchor="middle" font-weight="normal" fill="#222" >***</text>
<text transform="translate(340.7 559.8) scale(0.9 1)" font-size="7.5" text-anchor="middle" font-weight="normal" fill="#222" >*</text>
<text transform="translate(305 631.9) rotate(-90)" font-size="6.45" text-anchor="end" font-weight="normal" fill="#2a2a2a" >Vehicle</text>
<text transform="translate(317.5 631.9) rotate(-90)" font-size="6.45" text-anchor="end" font-weight="normal" fill="#2a2a2a" >Vehicle</text>
<text transform="translate(330.4 631.9) rotate(-90)" font-size="6.45" text-anchor="end" font-weight="normal" fill="#2a2a2a" >Casin</text>
<text transform="translate(343.1 631.9) rotate(-90)" font-size="6.45" text-anchor="end" font-weight="normal" fill="#2a2a2a" >NSC</text>
<text transform="translate(356 631.9) rotate(-90)" font-size="6.45" text-anchor="end" font-weight="normal" fill="#2a2a2a" >R-G04</text>
<text transform="translate(368.8 631.9) rotate(-90)" font-size="6.45" text-anchor="end" font-weight="normal" fill="#2a2a2a" >Casin+NSC</text>
<text transform="translate(377.1 631.9) rotate(-90)" font-size="6.45" text-anchor="end" font-weight="normal" fill="#2a2a2a" >+R-G04</text>
<text x="394.5" y="495.8" font-size="12.3" text-anchor="start" font-weight="bold" fill="#111" >I</text>
<text x="468.8" y="507.3" font-size="6.6" text-anchor="middle" font-weight="normal" fill="#2a2a2a" >7-day storage</text>
<line x1="434.2" y1="510.4" x2="504" y2="510.4" stroke="#222" stroke-width="1.0" />
<text x="436.8" y="517.5" font-size="6.6" text-anchor="middle" font-weight="normal" fill="#2a2a2a" >RT</text>
<text x="473.8" y="517.5" font-size="6.6" text-anchor="middle" font-weight="normal" fill="#2a2a2a" >Cold</text>
<line x1="446" y1="520.5" x2="503" y2="520.5" stroke="#222" stroke-width="1.1" />
<rect x="434.25" y="615" width="6.7000000000000455" height="10.100000000000023" fill="#e98b80" stroke="none" stroke-width="0.8" />
<rect x="446.77" y="546.7" width="6.7000000000000455" height="78.39999999999998" fill="#8897c3" stroke="none" stroke-width="0.8" />
<rect x="459.29" y="546.7" width="6.7000000000000455" height="78.39999999999998" fill="#a9d69c" stroke="none" stroke-width="0.8" />
<rect x="471.81" y="576" width="6.7000000000000455" height="49.10000000000002" fill="#f9c68c" stroke="none" stroke-width="0.8" />
<rect x="484.33" y="614" width="6.7000000000000455" height="11.100000000000023" fill="#a585b8" stroke="none" stroke-width="0.8" />
<rect x="496.85" y="617" width="6.7000000000000455" height="8.100000000000023" fill="#a88b6b" stroke="none" stroke-width="0.8" />
<line x1="429" y1="515.5" x2="429" y2="625.7" stroke="#222" stroke-width="1.2" />
<line x1="428.4" y1="625.1" x2="508.5" y2="625.1" stroke="#222" stroke-width="1.2" />
<line x1="425.6" y1="625.1" x2="429" y2="625.1" stroke="#222" stroke-width="0.9" />
<text transform="translate(423 627.8000000000001) scale(0.9 1)" font-size="7.6" text-anchor="end" font-weight="normal" fill="#222" >0</text>
<line x1="425.6" y1="603.34" x2="429" y2="603.34" stroke="#222" stroke-width="0.9" />
<text transform="translate(423 606.0400000000001) scale(0.9 1)" font-size="7.6" text-anchor="end" font-weight="normal" fill="#222" >20</text>
<line x1="425.6" y1="581.58" x2="429" y2="581.58" stroke="#222" stroke-width="0.9" />
<text transform="translate(423 584.2800000000001) scale(0.9 1)" font-size="7.6" text-anchor="end" font-weight="normal" fill="#222" >40</text>
<line x1="425.6" y1="559.82" x2="429" y2="559.82" stroke="#222" stroke-width="0.9" />
<text transform="translate(423 562.5200000000001) scale(0.9 1)" font-size="7.6" text-anchor="end" font-weight="normal" fill="#222" >60</text>
<line x1="425.6" y1="538.0600000000001" x2="429" y2="538.0600000000001" stroke="#222" stroke-width="0.9" />
<text transform="translate(423 540.7600000000001) scale(0.9 1)" font-size="7.6" text-anchor="end" font-weight="normal" fill="#222" >80</text>
<line x1="425.6" y1="516.3" x2="429" y2="516.3" stroke="#222" stroke-width="0.9" />
<text transform="translate(423 519.0) scale(0.9 1)" font-size="7.6" text-anchor="end" font-weight="normal" fill="#222" >100</text>
<line x1="437.6" y1="625.1" x2="437.6" y2="627.7" stroke="#222" stroke-width="0.9" />
<line x1="450.12" y1="625.1" x2="450.12" y2="627.7" stroke="#222" stroke-width="0.9" />
<line x1="462.64000000000004" y1="625.1" x2="462.64000000000004" y2="627.7" stroke="#222" stroke-width="0.9" />
<line x1="475.16" y1="625.1" x2="475.16" y2="627.7" stroke="#222" stroke-width="0.9" />
<line x1="487.68" y1="625.1" x2="487.68" y2="627.7" stroke="#222" stroke-width="0.9" />
<line x1="500.20000000000005" y1="625.1" x2="500.20000000000005" y2="627.7" stroke="#222" stroke-width="0.9" />
<text transform="translate(405.4 568.9) rotate(-90) scale(0.735 1)" font-size="9.2" text-anchor="middle" font-weight="normal" fill="#222" >Phagocytosis (%)</text>
<line x1="437.6" y1="611" x2="437.6" y2="619" stroke="#c4122f" stroke-width="0.7" />
<line x1="435.8" y1="611" x2="439.40000000000003" y2="611" stroke="#c4122f" stroke-width="0.7" />
<line x1="435.8" y1="619" x2="439.40000000000003" y2="619" stroke="#c4122f" stroke-width="0.7" />
<line x1="450.12" y1="538" x2="450.12" y2="555" stroke="#1c4a85" stroke-width="0.7" />
<line x1="448.32" y1="538" x2="451.92" y2="538" stroke="#1c4a85" stroke-width="0.7" />
<line x1="448.32" y1="555" x2="451.92" y2="555" stroke="#1c4a85" stroke-width="0.7" />
<line x1="462.64000000000004" y1="541" x2="462.64000000000004" y2="552.5" stroke="#3fa535" stroke-width="0.7" />
<line x1="460.84000000000003" y1="541" x2="464.44000000000005" y2="541" stroke="#3fa535" stroke-width="0.7" />
<line x1="460.84000000000003" y1="552.5" x2="464.44000000000005" y2="552.5" stroke="#3fa535" stroke-width="0.7" />
<line x1="475.16" y1="567" x2="475.16" y2="585" stroke="#f39a1e" stroke-width="0.7" />
<line x1="473.36" y1="567" x2="476.96000000000004" y2="567" stroke="#f39a1e" stroke-width="0.7" />
<line x1="473.36" y1="585" x2="476.96000000000004" y2="585" stroke="#f39a1e" stroke-width="0.7" />
<line x1="487.68" y1="609" x2="487.68" y2="618" stroke="#5b2478" stroke-width="0.7" />
<line x1="485.88" y1="609" x2="489.48" y2="609" stroke="#5b2478" stroke-width="0.7" />
<line x1="485.88" y1="618" x2="489.48" y2="618" stroke="#5b2478" stroke-width="0.7" />
<line x1="500.20000000000005" y1="614" x2="500.20000000000005" y2="620" stroke="#6d3b1b" stroke-width="0.7" />
<line x1="498.40000000000003" y1="614" x2="502.00000000000006" y2="614" stroke="#6d3b1b" stroke-width="0.7" />
<line x1="498.40000000000003" y1="620" x2="502.00000000000006" y2="620" stroke="#6d3b1b" stroke-width="0.7" />
<circle cx="435.0" cy="611.3" r="1.85" fill="#c4122f"/>
<circle cx="438.8" cy="611.3" r="1.85" fill="#c4122f"/>
<circle cx="436.3" cy="613.0" r="1.85" fill="#c4122f"/>
<circle cx="434.5" cy="614.5" r="1.85" fill="#c4122f"/>
<circle cx="438.0" cy="615.0" r="1.85" fill="#c4122f"/>
<circle cx="436.3" cy="617.5" r="1.85" fill="#c4122f"/>
<circle cx="438.8" cy="618.8" r="1.85" fill="#c4122f"/>
<circle cx="435.0" cy="620.0" r="1.85" fill="#c4122f"/>
<circle cx="451.3" cy="533.3" r="1.85" fill="#1c4a85"/>
<circle cx="448.8" cy="535.0" r="1.85" fill="#1c4a85"/>
<circle cx="447.5" cy="546.3" r="1.85" fill="#1c4a85"/>
<circle cx="452.5" cy="546.3" r="1.85" fill="#1c4a85"/>
<circle cx="449.5" cy="548.8" r="1.85" fill="#1c4a85"/>
<circle cx="448.0" cy="550.5" r="1.85" fill="#1c4a85"/>
<circle cx="451.3" cy="551.3" r="1.85" fill="#1c4a85"/>
<circle cx="448.8" cy="553.8" r="1.85" fill="#1c4a85"/>
<circle cx="451.3" cy="553.8" r="1.85" fill="#1c4a85"/>
<circle cx="460.0" cy="543.0" r="1.85" fill="#3fa535"/>
<circle cx="463.8" cy="543.0" r="1.85" fill="#3fa535"/>
<circle cx="461.3" cy="545.0" r="1.85" fill="#3fa535"/>
<circle cx="465.0" cy="545.0" r="1.85" fill="#3fa535"/>
<circle cx="460.8" cy="548.0" r="1.85" fill="#3fa535"/>
<circle cx="464.5" cy="548.8" r="1.85" fill="#3fa535"/>
<circle cx="462.5" cy="551.3" r="1.85" fill="#3fa535"/>
<circle cx="460.8" cy="554.5" r="1.85" fill="#3fa535"/>
<circle cx="464.3" cy="555.0" r="1.85" fill="#3fa535"/>
<circle cx="475.0" cy="567.5" r="1.85" fill="#f39a1e"/>
<circle cx="472.5" cy="569.5" r="1.85" fill="#f39a1e"/>
<circle cx="476.3" cy="570.0" r="1.85" fill="#f39a1e"/>
<circle cx="473.8" cy="573.0" r="1.85" fill="#f39a1e"/>
<circle cx="472.5" cy="578.8" r="1.85" fill="#f39a1e"/>
<circle cx="477.5" cy="578.8" r="1.85" fill="#f39a1e"/>
<circle cx="473.8" cy="581.3" r="1.85" fill="#f39a1e"/>
<circle cx="476.3" cy="583.0" r="1.85" fill="#f39a1e"/>
<circle cx="473.8" cy="585.5" r="1.85" fill="#f39a1e"/>
<circle cx="487.5" cy="605.0" r="1.85" fill="#5b2478"/>
<circle cx="486.3" cy="608.8" r="1.85" fill="#5b2478"/>
<circle cx="488.8" cy="610.5" r="1.85" fill="#5b2478"/>
<circle cx="485.8" cy="613.0" r="1.85" fill="#5b2478"/>
<circle cx="487.5" cy="614.5" r="1.85" fill="#5b2478"/>
<circle cx="489.5" cy="615.0" r="1.85" fill="#5b2478"/>
<circle cx="486.3" cy="616.3" r="1.85" fill="#5b2478"/>
<circle cx="488.3" cy="617.0" r="1.85" fill="#5b2478"/>
<circle cx="500.0" cy="613.0" r="1.85" fill="#6d3b1b"/>
<circle cx="498.0" cy="615.0" r="1.85" fill="#6d3b1b"/>
<circle cx="502.0" cy="615.0" r="1.85" fill="#6d3b1b"/>
<circle cx="499.5" cy="617.0" r="1.85" fill="#6d3b1b"/>
<circle cx="497.5" cy="618.0" r="1.85" fill="#6d3b1b"/>
<circle cx="501.3" cy="618.0" r="1.85" fill="#6d3b1b"/>
<circle cx="499.5" cy="619.5" r="1.85" fill="#6d3b1b"/>
<circle cx="501.3" cy="620.0" r="1.85" fill="#6d3b1b"/>
<text transform="translate(449.7 533.2) scale(0.9 1)" font-size="7.5" text-anchor="middle" font-weight="normal" fill="#1c3b6e" >***</text>
<text transform="translate(462.5 534.3) scale(0.9 1)" font-size="7.5" text-anchor="middle" font-weight="normal" fill="#1c3b6e" >***</text>
<text transform="translate(475 564.5) scale(0.9 1)" font-size="7.5" text-anchor="middle" font-weight="normal" fill="#222" >*</text>
<text transform="translate(439.8 631.9) rotate(-90)" font-size="6.45" text-anchor="end" font-weight="normal" fill="#2a2a2a" >Vehicle</text>
<text transform="translate(452.4 631.9) rotate(-90)" font-size="6.45" text-anchor="end" font-weight="normal" fill="#2a2a2a" >Vehicle</text>
<text transform="translate(464.9 631.9) rotate(-90)" font-size="6.45" text-anchor="end" font-weight="normal" fill="#2a2a2a" >CASIN</text>
<text transform="translate(477.5 631.9) rotate(-90)" font-size="6.45" text-anchor="end" font-weight="normal" fill="#2a2a2a" >NSC</text>
<text transform="translate(490.1 631.9) rotate(-90)" font-size="6.45" text-anchor="end" font-weight="normal" fill="#2a2a2a" >R-G04</text>
<text transform="translate(503.2 631.9) rotate(-90)" font-size="6.45" text-anchor="end" font-weight="normal" fill="#2a2a2a" >Casin+NSC</text>
<text transform="translate(510.9 631.9) rotate(-90)" font-size="6.45" text-anchor="end" font-weight="normal" fill="#2a2a2a" >+R-G04</text>
</svg>
</body></html>
